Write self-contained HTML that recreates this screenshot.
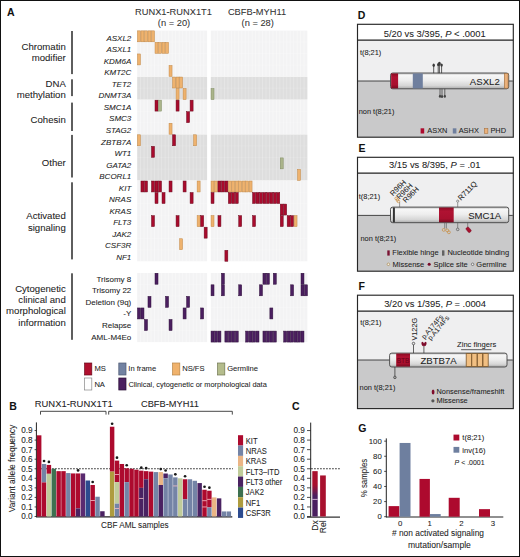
<!DOCTYPE html>
<html><head><meta charset="utf-8"><title>CBF AML figure</title>
<style>
html,body{margin:0;padding:0;background:#fff;}
body{width:520px;height:557px;overflow:hidden;font-family:"Liberation Sans", sans-serif;}
svg{display:block;}
text{font-family:"Liberation Sans", sans-serif;stroke:#222;stroke-width:0.06px;}
</style></head>
<body>
<svg width="520" height="557" viewBox="0 0 520 557">
<rect x="0" y="0" width="520" height="557" fill="#fff"/>
<text x="7.00" y="16.20" font-size="10.5" text-anchor="start" font-weight="bold" font-style="normal" fill="#111" >A</text>
<text x="173.50" y="15.10" font-size="9.3" text-anchor="middle" font-weight="normal" font-style="normal" fill="#333" >RUNX1-RUNX1T1</text>
<text x="174.00" y="25.80" font-size="9.3" text-anchor="middle" font-weight="normal" font-style="normal" fill="#333" >(n = 20)</text>
<text x="257.00" y="15.10" font-size="9.3" text-anchor="middle" font-weight="normal" font-style="normal" fill="#333" >CBFB-MYH11</text>
<text x="257.70" y="25.80" font-size="9.3" text-anchor="middle" font-weight="normal" font-style="normal" fill="#333" >(n = 28)</text>
<rect x="137.20" y="30.60" width="69.90" height="45.90" fill="#f3f3f4" />
<line x1="140.56" y1="30.60" x2="140.56" y2="76.50" stroke="#ffffff" stroke-width="0.5" stroke-opacity="0.75"/>
<line x1="144.07" y1="30.60" x2="144.07" y2="76.50" stroke="#ffffff" stroke-width="0.5" stroke-opacity="0.75"/>
<line x1="147.58" y1="30.60" x2="147.58" y2="76.50" stroke="#ffffff" stroke-width="0.5" stroke-opacity="0.75"/>
<line x1="151.09" y1="30.60" x2="151.09" y2="76.50" stroke="#ffffff" stroke-width="0.5" stroke-opacity="0.75"/>
<line x1="154.60" y1="30.60" x2="154.60" y2="76.50" stroke="#ffffff" stroke-width="0.5" stroke-opacity="0.75"/>
<line x1="158.11" y1="30.60" x2="158.11" y2="76.50" stroke="#ffffff" stroke-width="0.5" stroke-opacity="0.75"/>
<line x1="161.62" y1="30.60" x2="161.62" y2="76.50" stroke="#ffffff" stroke-width="0.5" stroke-opacity="0.75"/>
<line x1="165.13" y1="30.60" x2="165.13" y2="76.50" stroke="#ffffff" stroke-width="0.5" stroke-opacity="0.75"/>
<line x1="168.64" y1="30.60" x2="168.64" y2="76.50" stroke="#ffffff" stroke-width="0.5" stroke-opacity="0.75"/>
<line x1="172.15" y1="30.60" x2="172.15" y2="76.50" stroke="#ffffff" stroke-width="0.5" stroke-opacity="0.75"/>
<line x1="175.66" y1="30.60" x2="175.66" y2="76.50" stroke="#ffffff" stroke-width="0.5" stroke-opacity="0.75"/>
<line x1="179.17" y1="30.60" x2="179.17" y2="76.50" stroke="#ffffff" stroke-width="0.5" stroke-opacity="0.75"/>
<line x1="182.68" y1="30.60" x2="182.68" y2="76.50" stroke="#ffffff" stroke-width="0.5" stroke-opacity="0.75"/>
<line x1="186.19" y1="30.60" x2="186.19" y2="76.50" stroke="#ffffff" stroke-width="0.5" stroke-opacity="0.75"/>
<line x1="189.70" y1="30.60" x2="189.70" y2="76.50" stroke="#ffffff" stroke-width="0.5" stroke-opacity="0.75"/>
<line x1="193.21" y1="30.60" x2="193.21" y2="76.50" stroke="#ffffff" stroke-width="0.5" stroke-opacity="0.75"/>
<line x1="196.72" y1="30.60" x2="196.72" y2="76.50" stroke="#ffffff" stroke-width="0.5" stroke-opacity="0.75"/>
<line x1="200.23" y1="30.60" x2="200.23" y2="76.50" stroke="#ffffff" stroke-width="0.5" stroke-opacity="0.75"/>
<line x1="203.74" y1="30.60" x2="203.74" y2="76.50" stroke="#ffffff" stroke-width="0.5" stroke-opacity="0.75"/>
<line x1="137.20" y1="42.00" x2="207.10" y2="42.00" stroke="#ffffff" stroke-width="0.45" stroke-opacity="0.44999999999999996"/>
<line x1="137.20" y1="53.55" x2="207.10" y2="53.55" stroke="#ffffff" stroke-width="0.45" stroke-opacity="0.44999999999999996"/>
<line x1="137.20" y1="65.10" x2="207.10" y2="65.10" stroke="#ffffff" stroke-width="0.45" stroke-opacity="0.44999999999999996"/>
<rect x="210.80" y="30.60" width="96.58" height="45.90" fill="#f3f3f4" />
<line x1="214.11" y1="30.60" x2="214.11" y2="76.50" stroke="#ffffff" stroke-width="0.5" stroke-opacity="0.75"/>
<line x1="217.57" y1="30.60" x2="217.57" y2="76.50" stroke="#ffffff" stroke-width="0.5" stroke-opacity="0.75"/>
<line x1="221.03" y1="30.60" x2="221.03" y2="76.50" stroke="#ffffff" stroke-width="0.5" stroke-opacity="0.75"/>
<line x1="224.49" y1="30.60" x2="224.49" y2="76.50" stroke="#ffffff" stroke-width="0.5" stroke-opacity="0.75"/>
<line x1="227.95" y1="30.60" x2="227.95" y2="76.50" stroke="#ffffff" stroke-width="0.5" stroke-opacity="0.75"/>
<line x1="231.41" y1="30.60" x2="231.41" y2="76.50" stroke="#ffffff" stroke-width="0.5" stroke-opacity="0.75"/>
<line x1="234.87" y1="30.60" x2="234.87" y2="76.50" stroke="#ffffff" stroke-width="0.5" stroke-opacity="0.75"/>
<line x1="238.33" y1="30.60" x2="238.33" y2="76.50" stroke="#ffffff" stroke-width="0.5" stroke-opacity="0.75"/>
<line x1="241.79" y1="30.60" x2="241.79" y2="76.50" stroke="#ffffff" stroke-width="0.5" stroke-opacity="0.75"/>
<line x1="245.25" y1="30.60" x2="245.25" y2="76.50" stroke="#ffffff" stroke-width="0.5" stroke-opacity="0.75"/>
<line x1="248.71" y1="30.60" x2="248.71" y2="76.50" stroke="#ffffff" stroke-width="0.5" stroke-opacity="0.75"/>
<line x1="252.17" y1="30.60" x2="252.17" y2="76.50" stroke="#ffffff" stroke-width="0.5" stroke-opacity="0.75"/>
<line x1="255.63" y1="30.60" x2="255.63" y2="76.50" stroke="#ffffff" stroke-width="0.5" stroke-opacity="0.75"/>
<line x1="259.09" y1="30.60" x2="259.09" y2="76.50" stroke="#ffffff" stroke-width="0.5" stroke-opacity="0.75"/>
<line x1="262.55" y1="30.60" x2="262.55" y2="76.50" stroke="#ffffff" stroke-width="0.5" stroke-opacity="0.75"/>
<line x1="266.01" y1="30.60" x2="266.01" y2="76.50" stroke="#ffffff" stroke-width="0.5" stroke-opacity="0.75"/>
<line x1="269.47" y1="30.60" x2="269.47" y2="76.50" stroke="#ffffff" stroke-width="0.5" stroke-opacity="0.75"/>
<line x1="272.93" y1="30.60" x2="272.93" y2="76.50" stroke="#ffffff" stroke-width="0.5" stroke-opacity="0.75"/>
<line x1="276.39" y1="30.60" x2="276.39" y2="76.50" stroke="#ffffff" stroke-width="0.5" stroke-opacity="0.75"/>
<line x1="279.85" y1="30.60" x2="279.85" y2="76.50" stroke="#ffffff" stroke-width="0.5" stroke-opacity="0.75"/>
<line x1="283.31" y1="30.60" x2="283.31" y2="76.50" stroke="#ffffff" stroke-width="0.5" stroke-opacity="0.75"/>
<line x1="286.77" y1="30.60" x2="286.77" y2="76.50" stroke="#ffffff" stroke-width="0.5" stroke-opacity="0.75"/>
<line x1="290.23" y1="30.60" x2="290.23" y2="76.50" stroke="#ffffff" stroke-width="0.5" stroke-opacity="0.75"/>
<line x1="293.69" y1="30.60" x2="293.69" y2="76.50" stroke="#ffffff" stroke-width="0.5" stroke-opacity="0.75"/>
<line x1="297.15" y1="30.60" x2="297.15" y2="76.50" stroke="#ffffff" stroke-width="0.5" stroke-opacity="0.75"/>
<line x1="300.61" y1="30.60" x2="300.61" y2="76.50" stroke="#ffffff" stroke-width="0.5" stroke-opacity="0.75"/>
<line x1="304.07" y1="30.60" x2="304.07" y2="76.50" stroke="#ffffff" stroke-width="0.5" stroke-opacity="0.75"/>
<line x1="210.80" y1="42.00" x2="307.38" y2="42.00" stroke="#ffffff" stroke-width="0.45" stroke-opacity="0.44999999999999996"/>
<line x1="210.80" y1="53.55" x2="307.38" y2="53.55" stroke="#ffffff" stroke-width="0.45" stroke-opacity="0.44999999999999996"/>
<line x1="210.80" y1="65.10" x2="307.38" y2="65.10" stroke="#ffffff" stroke-width="0.45" stroke-opacity="0.44999999999999996"/>
<rect x="137.20" y="76.80" width="69.90" height="22.80" fill="#dedede" />
<line x1="140.56" y1="76.80" x2="140.56" y2="99.60" stroke="#ffffff" stroke-width="0.5" stroke-opacity="0.45"/>
<line x1="144.07" y1="76.80" x2="144.07" y2="99.60" stroke="#ffffff" stroke-width="0.5" stroke-opacity="0.45"/>
<line x1="147.58" y1="76.80" x2="147.58" y2="99.60" stroke="#ffffff" stroke-width="0.5" stroke-opacity="0.45"/>
<line x1="151.09" y1="76.80" x2="151.09" y2="99.60" stroke="#ffffff" stroke-width="0.5" stroke-opacity="0.45"/>
<line x1="154.60" y1="76.80" x2="154.60" y2="99.60" stroke="#ffffff" stroke-width="0.5" stroke-opacity="0.45"/>
<line x1="158.11" y1="76.80" x2="158.11" y2="99.60" stroke="#ffffff" stroke-width="0.5" stroke-opacity="0.45"/>
<line x1="161.62" y1="76.80" x2="161.62" y2="99.60" stroke="#ffffff" stroke-width="0.5" stroke-opacity="0.45"/>
<line x1="165.13" y1="76.80" x2="165.13" y2="99.60" stroke="#ffffff" stroke-width="0.5" stroke-opacity="0.45"/>
<line x1="168.64" y1="76.80" x2="168.64" y2="99.60" stroke="#ffffff" stroke-width="0.5" stroke-opacity="0.45"/>
<line x1="172.15" y1="76.80" x2="172.15" y2="99.60" stroke="#ffffff" stroke-width="0.5" stroke-opacity="0.45"/>
<line x1="175.66" y1="76.80" x2="175.66" y2="99.60" stroke="#ffffff" stroke-width="0.5" stroke-opacity="0.45"/>
<line x1="179.17" y1="76.80" x2="179.17" y2="99.60" stroke="#ffffff" stroke-width="0.5" stroke-opacity="0.45"/>
<line x1="182.68" y1="76.80" x2="182.68" y2="99.60" stroke="#ffffff" stroke-width="0.5" stroke-opacity="0.45"/>
<line x1="186.19" y1="76.80" x2="186.19" y2="99.60" stroke="#ffffff" stroke-width="0.5" stroke-opacity="0.45"/>
<line x1="189.70" y1="76.80" x2="189.70" y2="99.60" stroke="#ffffff" stroke-width="0.5" stroke-opacity="0.45"/>
<line x1="193.21" y1="76.80" x2="193.21" y2="99.60" stroke="#ffffff" stroke-width="0.5" stroke-opacity="0.45"/>
<line x1="196.72" y1="76.80" x2="196.72" y2="99.60" stroke="#ffffff" stroke-width="0.5" stroke-opacity="0.45"/>
<line x1="200.23" y1="76.80" x2="200.23" y2="99.60" stroke="#ffffff" stroke-width="0.5" stroke-opacity="0.45"/>
<line x1="203.74" y1="76.80" x2="203.74" y2="99.60" stroke="#ffffff" stroke-width="0.5" stroke-opacity="0.45"/>
<line x1="137.20" y1="88.20" x2="207.10" y2="88.20" stroke="#ffffff" stroke-width="0.45" stroke-opacity="0.27"/>
<rect x="210.80" y="76.80" width="96.58" height="22.80" fill="#dedede" />
<line x1="214.11" y1="76.80" x2="214.11" y2="99.60" stroke="#ffffff" stroke-width="0.5" stroke-opacity="0.45"/>
<line x1="217.57" y1="76.80" x2="217.57" y2="99.60" stroke="#ffffff" stroke-width="0.5" stroke-opacity="0.45"/>
<line x1="221.03" y1="76.80" x2="221.03" y2="99.60" stroke="#ffffff" stroke-width="0.5" stroke-opacity="0.45"/>
<line x1="224.49" y1="76.80" x2="224.49" y2="99.60" stroke="#ffffff" stroke-width="0.5" stroke-opacity="0.45"/>
<line x1="227.95" y1="76.80" x2="227.95" y2="99.60" stroke="#ffffff" stroke-width="0.5" stroke-opacity="0.45"/>
<line x1="231.41" y1="76.80" x2="231.41" y2="99.60" stroke="#ffffff" stroke-width="0.5" stroke-opacity="0.45"/>
<line x1="234.87" y1="76.80" x2="234.87" y2="99.60" stroke="#ffffff" stroke-width="0.5" stroke-opacity="0.45"/>
<line x1="238.33" y1="76.80" x2="238.33" y2="99.60" stroke="#ffffff" stroke-width="0.5" stroke-opacity="0.45"/>
<line x1="241.79" y1="76.80" x2="241.79" y2="99.60" stroke="#ffffff" stroke-width="0.5" stroke-opacity="0.45"/>
<line x1="245.25" y1="76.80" x2="245.25" y2="99.60" stroke="#ffffff" stroke-width="0.5" stroke-opacity="0.45"/>
<line x1="248.71" y1="76.80" x2="248.71" y2="99.60" stroke="#ffffff" stroke-width="0.5" stroke-opacity="0.45"/>
<line x1="252.17" y1="76.80" x2="252.17" y2="99.60" stroke="#ffffff" stroke-width="0.5" stroke-opacity="0.45"/>
<line x1="255.63" y1="76.80" x2="255.63" y2="99.60" stroke="#ffffff" stroke-width="0.5" stroke-opacity="0.45"/>
<line x1="259.09" y1="76.80" x2="259.09" y2="99.60" stroke="#ffffff" stroke-width="0.5" stroke-opacity="0.45"/>
<line x1="262.55" y1="76.80" x2="262.55" y2="99.60" stroke="#ffffff" stroke-width="0.5" stroke-opacity="0.45"/>
<line x1="266.01" y1="76.80" x2="266.01" y2="99.60" stroke="#ffffff" stroke-width="0.5" stroke-opacity="0.45"/>
<line x1="269.47" y1="76.80" x2="269.47" y2="99.60" stroke="#ffffff" stroke-width="0.5" stroke-opacity="0.45"/>
<line x1="272.93" y1="76.80" x2="272.93" y2="99.60" stroke="#ffffff" stroke-width="0.5" stroke-opacity="0.45"/>
<line x1="276.39" y1="76.80" x2="276.39" y2="99.60" stroke="#ffffff" stroke-width="0.5" stroke-opacity="0.45"/>
<line x1="279.85" y1="76.80" x2="279.85" y2="99.60" stroke="#ffffff" stroke-width="0.5" stroke-opacity="0.45"/>
<line x1="283.31" y1="76.80" x2="283.31" y2="99.60" stroke="#ffffff" stroke-width="0.5" stroke-opacity="0.45"/>
<line x1="286.77" y1="76.80" x2="286.77" y2="99.60" stroke="#ffffff" stroke-width="0.5" stroke-opacity="0.45"/>
<line x1="290.23" y1="76.80" x2="290.23" y2="99.60" stroke="#ffffff" stroke-width="0.5" stroke-opacity="0.45"/>
<line x1="293.69" y1="76.80" x2="293.69" y2="99.60" stroke="#ffffff" stroke-width="0.5" stroke-opacity="0.45"/>
<line x1="297.15" y1="76.80" x2="297.15" y2="99.60" stroke="#ffffff" stroke-width="0.5" stroke-opacity="0.45"/>
<line x1="300.61" y1="76.80" x2="300.61" y2="99.60" stroke="#ffffff" stroke-width="0.5" stroke-opacity="0.45"/>
<line x1="304.07" y1="76.80" x2="304.07" y2="99.60" stroke="#ffffff" stroke-width="0.5" stroke-opacity="0.45"/>
<line x1="210.80" y1="88.20" x2="307.38" y2="88.20" stroke="#ffffff" stroke-width="0.45" stroke-opacity="0.27"/>
<rect x="137.20" y="99.90" width="69.90" height="34.35" fill="#f3f3f4" />
<line x1="140.56" y1="99.90" x2="140.56" y2="134.25" stroke="#ffffff" stroke-width="0.5" stroke-opacity="0.75"/>
<line x1="144.07" y1="99.90" x2="144.07" y2="134.25" stroke="#ffffff" stroke-width="0.5" stroke-opacity="0.75"/>
<line x1="147.58" y1="99.90" x2="147.58" y2="134.25" stroke="#ffffff" stroke-width="0.5" stroke-opacity="0.75"/>
<line x1="151.09" y1="99.90" x2="151.09" y2="134.25" stroke="#ffffff" stroke-width="0.5" stroke-opacity="0.75"/>
<line x1="154.60" y1="99.90" x2="154.60" y2="134.25" stroke="#ffffff" stroke-width="0.5" stroke-opacity="0.75"/>
<line x1="158.11" y1="99.90" x2="158.11" y2="134.25" stroke="#ffffff" stroke-width="0.5" stroke-opacity="0.75"/>
<line x1="161.62" y1="99.90" x2="161.62" y2="134.25" stroke="#ffffff" stroke-width="0.5" stroke-opacity="0.75"/>
<line x1="165.13" y1="99.90" x2="165.13" y2="134.25" stroke="#ffffff" stroke-width="0.5" stroke-opacity="0.75"/>
<line x1="168.64" y1="99.90" x2="168.64" y2="134.25" stroke="#ffffff" stroke-width="0.5" stroke-opacity="0.75"/>
<line x1="172.15" y1="99.90" x2="172.15" y2="134.25" stroke="#ffffff" stroke-width="0.5" stroke-opacity="0.75"/>
<line x1="175.66" y1="99.90" x2="175.66" y2="134.25" stroke="#ffffff" stroke-width="0.5" stroke-opacity="0.75"/>
<line x1="179.17" y1="99.90" x2="179.17" y2="134.25" stroke="#ffffff" stroke-width="0.5" stroke-opacity="0.75"/>
<line x1="182.68" y1="99.90" x2="182.68" y2="134.25" stroke="#ffffff" stroke-width="0.5" stroke-opacity="0.75"/>
<line x1="186.19" y1="99.90" x2="186.19" y2="134.25" stroke="#ffffff" stroke-width="0.5" stroke-opacity="0.75"/>
<line x1="189.70" y1="99.90" x2="189.70" y2="134.25" stroke="#ffffff" stroke-width="0.5" stroke-opacity="0.75"/>
<line x1="193.21" y1="99.90" x2="193.21" y2="134.25" stroke="#ffffff" stroke-width="0.5" stroke-opacity="0.75"/>
<line x1="196.72" y1="99.90" x2="196.72" y2="134.25" stroke="#ffffff" stroke-width="0.5" stroke-opacity="0.75"/>
<line x1="200.23" y1="99.90" x2="200.23" y2="134.25" stroke="#ffffff" stroke-width="0.5" stroke-opacity="0.75"/>
<line x1="203.74" y1="99.90" x2="203.74" y2="134.25" stroke="#ffffff" stroke-width="0.5" stroke-opacity="0.75"/>
<line x1="137.20" y1="111.30" x2="207.10" y2="111.30" stroke="#ffffff" stroke-width="0.45" stroke-opacity="0.44999999999999996"/>
<line x1="137.20" y1="122.85" x2="207.10" y2="122.85" stroke="#ffffff" stroke-width="0.45" stroke-opacity="0.44999999999999996"/>
<rect x="210.80" y="99.90" width="96.58" height="34.35" fill="#f3f3f4" />
<line x1="214.11" y1="99.90" x2="214.11" y2="134.25" stroke="#ffffff" stroke-width="0.5" stroke-opacity="0.75"/>
<line x1="217.57" y1="99.90" x2="217.57" y2="134.25" stroke="#ffffff" stroke-width="0.5" stroke-opacity="0.75"/>
<line x1="221.03" y1="99.90" x2="221.03" y2="134.25" stroke="#ffffff" stroke-width="0.5" stroke-opacity="0.75"/>
<line x1="224.49" y1="99.90" x2="224.49" y2="134.25" stroke="#ffffff" stroke-width="0.5" stroke-opacity="0.75"/>
<line x1="227.95" y1="99.90" x2="227.95" y2="134.25" stroke="#ffffff" stroke-width="0.5" stroke-opacity="0.75"/>
<line x1="231.41" y1="99.90" x2="231.41" y2="134.25" stroke="#ffffff" stroke-width="0.5" stroke-opacity="0.75"/>
<line x1="234.87" y1="99.90" x2="234.87" y2="134.25" stroke="#ffffff" stroke-width="0.5" stroke-opacity="0.75"/>
<line x1="238.33" y1="99.90" x2="238.33" y2="134.25" stroke="#ffffff" stroke-width="0.5" stroke-opacity="0.75"/>
<line x1="241.79" y1="99.90" x2="241.79" y2="134.25" stroke="#ffffff" stroke-width="0.5" stroke-opacity="0.75"/>
<line x1="245.25" y1="99.90" x2="245.25" y2="134.25" stroke="#ffffff" stroke-width="0.5" stroke-opacity="0.75"/>
<line x1="248.71" y1="99.90" x2="248.71" y2="134.25" stroke="#ffffff" stroke-width="0.5" stroke-opacity="0.75"/>
<line x1="252.17" y1="99.90" x2="252.17" y2="134.25" stroke="#ffffff" stroke-width="0.5" stroke-opacity="0.75"/>
<line x1="255.63" y1="99.90" x2="255.63" y2="134.25" stroke="#ffffff" stroke-width="0.5" stroke-opacity="0.75"/>
<line x1="259.09" y1="99.90" x2="259.09" y2="134.25" stroke="#ffffff" stroke-width="0.5" stroke-opacity="0.75"/>
<line x1="262.55" y1="99.90" x2="262.55" y2="134.25" stroke="#ffffff" stroke-width="0.5" stroke-opacity="0.75"/>
<line x1="266.01" y1="99.90" x2="266.01" y2="134.25" stroke="#ffffff" stroke-width="0.5" stroke-opacity="0.75"/>
<line x1="269.47" y1="99.90" x2="269.47" y2="134.25" stroke="#ffffff" stroke-width="0.5" stroke-opacity="0.75"/>
<line x1="272.93" y1="99.90" x2="272.93" y2="134.25" stroke="#ffffff" stroke-width="0.5" stroke-opacity="0.75"/>
<line x1="276.39" y1="99.90" x2="276.39" y2="134.25" stroke="#ffffff" stroke-width="0.5" stroke-opacity="0.75"/>
<line x1="279.85" y1="99.90" x2="279.85" y2="134.25" stroke="#ffffff" stroke-width="0.5" stroke-opacity="0.75"/>
<line x1="283.31" y1="99.90" x2="283.31" y2="134.25" stroke="#ffffff" stroke-width="0.5" stroke-opacity="0.75"/>
<line x1="286.77" y1="99.90" x2="286.77" y2="134.25" stroke="#ffffff" stroke-width="0.5" stroke-opacity="0.75"/>
<line x1="290.23" y1="99.90" x2="290.23" y2="134.25" stroke="#ffffff" stroke-width="0.5" stroke-opacity="0.75"/>
<line x1="293.69" y1="99.90" x2="293.69" y2="134.25" stroke="#ffffff" stroke-width="0.5" stroke-opacity="0.75"/>
<line x1="297.15" y1="99.90" x2="297.15" y2="134.25" stroke="#ffffff" stroke-width="0.5" stroke-opacity="0.75"/>
<line x1="300.61" y1="99.90" x2="300.61" y2="134.25" stroke="#ffffff" stroke-width="0.5" stroke-opacity="0.75"/>
<line x1="304.07" y1="99.90" x2="304.07" y2="134.25" stroke="#ffffff" stroke-width="0.5" stroke-opacity="0.75"/>
<line x1="210.80" y1="111.30" x2="307.38" y2="111.30" stroke="#ffffff" stroke-width="0.45" stroke-opacity="0.44999999999999996"/>
<line x1="210.80" y1="122.85" x2="307.38" y2="122.85" stroke="#ffffff" stroke-width="0.45" stroke-opacity="0.44999999999999996"/>
<rect x="137.20" y="134.55" width="69.90" height="45.90" fill="#dedede" />
<line x1="140.56" y1="134.55" x2="140.56" y2="180.45" stroke="#ffffff" stroke-width="0.5" stroke-opacity="0.45"/>
<line x1="144.07" y1="134.55" x2="144.07" y2="180.45" stroke="#ffffff" stroke-width="0.5" stroke-opacity="0.45"/>
<line x1="147.58" y1="134.55" x2="147.58" y2="180.45" stroke="#ffffff" stroke-width="0.5" stroke-opacity="0.45"/>
<line x1="151.09" y1="134.55" x2="151.09" y2="180.45" stroke="#ffffff" stroke-width="0.5" stroke-opacity="0.45"/>
<line x1="154.60" y1="134.55" x2="154.60" y2="180.45" stroke="#ffffff" stroke-width="0.5" stroke-opacity="0.45"/>
<line x1="158.11" y1="134.55" x2="158.11" y2="180.45" stroke="#ffffff" stroke-width="0.5" stroke-opacity="0.45"/>
<line x1="161.62" y1="134.55" x2="161.62" y2="180.45" stroke="#ffffff" stroke-width="0.5" stroke-opacity="0.45"/>
<line x1="165.13" y1="134.55" x2="165.13" y2="180.45" stroke="#ffffff" stroke-width="0.5" stroke-opacity="0.45"/>
<line x1="168.64" y1="134.55" x2="168.64" y2="180.45" stroke="#ffffff" stroke-width="0.5" stroke-opacity="0.45"/>
<line x1="172.15" y1="134.55" x2="172.15" y2="180.45" stroke="#ffffff" stroke-width="0.5" stroke-opacity="0.45"/>
<line x1="175.66" y1="134.55" x2="175.66" y2="180.45" stroke="#ffffff" stroke-width="0.5" stroke-opacity="0.45"/>
<line x1="179.17" y1="134.55" x2="179.17" y2="180.45" stroke="#ffffff" stroke-width="0.5" stroke-opacity="0.45"/>
<line x1="182.68" y1="134.55" x2="182.68" y2="180.45" stroke="#ffffff" stroke-width="0.5" stroke-opacity="0.45"/>
<line x1="186.19" y1="134.55" x2="186.19" y2="180.45" stroke="#ffffff" stroke-width="0.5" stroke-opacity="0.45"/>
<line x1="189.70" y1="134.55" x2="189.70" y2="180.45" stroke="#ffffff" stroke-width="0.5" stroke-opacity="0.45"/>
<line x1="193.21" y1="134.55" x2="193.21" y2="180.45" stroke="#ffffff" stroke-width="0.5" stroke-opacity="0.45"/>
<line x1="196.72" y1="134.55" x2="196.72" y2="180.45" stroke="#ffffff" stroke-width="0.5" stroke-opacity="0.45"/>
<line x1="200.23" y1="134.55" x2="200.23" y2="180.45" stroke="#ffffff" stroke-width="0.5" stroke-opacity="0.45"/>
<line x1="203.74" y1="134.55" x2="203.74" y2="180.45" stroke="#ffffff" stroke-width="0.5" stroke-opacity="0.45"/>
<line x1="137.20" y1="145.95" x2="207.10" y2="145.95" stroke="#ffffff" stroke-width="0.45" stroke-opacity="0.27"/>
<line x1="137.20" y1="157.50" x2="207.10" y2="157.50" stroke="#ffffff" stroke-width="0.45" stroke-opacity="0.27"/>
<line x1="137.20" y1="169.05" x2="207.10" y2="169.05" stroke="#ffffff" stroke-width="0.45" stroke-opacity="0.27"/>
<rect x="210.80" y="134.55" width="96.58" height="45.90" fill="#dedede" />
<line x1="214.11" y1="134.55" x2="214.11" y2="180.45" stroke="#ffffff" stroke-width="0.5" stroke-opacity="0.45"/>
<line x1="217.57" y1="134.55" x2="217.57" y2="180.45" stroke="#ffffff" stroke-width="0.5" stroke-opacity="0.45"/>
<line x1="221.03" y1="134.55" x2="221.03" y2="180.45" stroke="#ffffff" stroke-width="0.5" stroke-opacity="0.45"/>
<line x1="224.49" y1="134.55" x2="224.49" y2="180.45" stroke="#ffffff" stroke-width="0.5" stroke-opacity="0.45"/>
<line x1="227.95" y1="134.55" x2="227.95" y2="180.45" stroke="#ffffff" stroke-width="0.5" stroke-opacity="0.45"/>
<line x1="231.41" y1="134.55" x2="231.41" y2="180.45" stroke="#ffffff" stroke-width="0.5" stroke-opacity="0.45"/>
<line x1="234.87" y1="134.55" x2="234.87" y2="180.45" stroke="#ffffff" stroke-width="0.5" stroke-opacity="0.45"/>
<line x1="238.33" y1="134.55" x2="238.33" y2="180.45" stroke="#ffffff" stroke-width="0.5" stroke-opacity="0.45"/>
<line x1="241.79" y1="134.55" x2="241.79" y2="180.45" stroke="#ffffff" stroke-width="0.5" stroke-opacity="0.45"/>
<line x1="245.25" y1="134.55" x2="245.25" y2="180.45" stroke="#ffffff" stroke-width="0.5" stroke-opacity="0.45"/>
<line x1="248.71" y1="134.55" x2="248.71" y2="180.45" stroke="#ffffff" stroke-width="0.5" stroke-opacity="0.45"/>
<line x1="252.17" y1="134.55" x2="252.17" y2="180.45" stroke="#ffffff" stroke-width="0.5" stroke-opacity="0.45"/>
<line x1="255.63" y1="134.55" x2="255.63" y2="180.45" stroke="#ffffff" stroke-width="0.5" stroke-opacity="0.45"/>
<line x1="259.09" y1="134.55" x2="259.09" y2="180.45" stroke="#ffffff" stroke-width="0.5" stroke-opacity="0.45"/>
<line x1="262.55" y1="134.55" x2="262.55" y2="180.45" stroke="#ffffff" stroke-width="0.5" stroke-opacity="0.45"/>
<line x1="266.01" y1="134.55" x2="266.01" y2="180.45" stroke="#ffffff" stroke-width="0.5" stroke-opacity="0.45"/>
<line x1="269.47" y1="134.55" x2="269.47" y2="180.45" stroke="#ffffff" stroke-width="0.5" stroke-opacity="0.45"/>
<line x1="272.93" y1="134.55" x2="272.93" y2="180.45" stroke="#ffffff" stroke-width="0.5" stroke-opacity="0.45"/>
<line x1="276.39" y1="134.55" x2="276.39" y2="180.45" stroke="#ffffff" stroke-width="0.5" stroke-opacity="0.45"/>
<line x1="279.85" y1="134.55" x2="279.85" y2="180.45" stroke="#ffffff" stroke-width="0.5" stroke-opacity="0.45"/>
<line x1="283.31" y1="134.55" x2="283.31" y2="180.45" stroke="#ffffff" stroke-width="0.5" stroke-opacity="0.45"/>
<line x1="286.77" y1="134.55" x2="286.77" y2="180.45" stroke="#ffffff" stroke-width="0.5" stroke-opacity="0.45"/>
<line x1="290.23" y1="134.55" x2="290.23" y2="180.45" stroke="#ffffff" stroke-width="0.5" stroke-opacity="0.45"/>
<line x1="293.69" y1="134.55" x2="293.69" y2="180.45" stroke="#ffffff" stroke-width="0.5" stroke-opacity="0.45"/>
<line x1="297.15" y1="134.55" x2="297.15" y2="180.45" stroke="#ffffff" stroke-width="0.5" stroke-opacity="0.45"/>
<line x1="300.61" y1="134.55" x2="300.61" y2="180.45" stroke="#ffffff" stroke-width="0.5" stroke-opacity="0.45"/>
<line x1="304.07" y1="134.55" x2="304.07" y2="180.45" stroke="#ffffff" stroke-width="0.5" stroke-opacity="0.45"/>
<line x1="210.80" y1="145.95" x2="307.38" y2="145.95" stroke="#ffffff" stroke-width="0.45" stroke-opacity="0.27"/>
<line x1="210.80" y1="157.50" x2="307.38" y2="157.50" stroke="#ffffff" stroke-width="0.45" stroke-opacity="0.27"/>
<line x1="210.80" y1="169.05" x2="307.38" y2="169.05" stroke="#ffffff" stroke-width="0.45" stroke-opacity="0.27"/>
<rect x="137.20" y="180.75" width="69.90" height="80.55" fill="#f3f3f4" />
<line x1="140.56" y1="180.75" x2="140.56" y2="261.30" stroke="#ffffff" stroke-width="0.5" stroke-opacity="0.75"/>
<line x1="144.07" y1="180.75" x2="144.07" y2="261.30" stroke="#ffffff" stroke-width="0.5" stroke-opacity="0.75"/>
<line x1="147.58" y1="180.75" x2="147.58" y2="261.30" stroke="#ffffff" stroke-width="0.5" stroke-opacity="0.75"/>
<line x1="151.09" y1="180.75" x2="151.09" y2="261.30" stroke="#ffffff" stroke-width="0.5" stroke-opacity="0.75"/>
<line x1="154.60" y1="180.75" x2="154.60" y2="261.30" stroke="#ffffff" stroke-width="0.5" stroke-opacity="0.75"/>
<line x1="158.11" y1="180.75" x2="158.11" y2="261.30" stroke="#ffffff" stroke-width="0.5" stroke-opacity="0.75"/>
<line x1="161.62" y1="180.75" x2="161.62" y2="261.30" stroke="#ffffff" stroke-width="0.5" stroke-opacity="0.75"/>
<line x1="165.13" y1="180.75" x2="165.13" y2="261.30" stroke="#ffffff" stroke-width="0.5" stroke-opacity="0.75"/>
<line x1="168.64" y1="180.75" x2="168.64" y2="261.30" stroke="#ffffff" stroke-width="0.5" stroke-opacity="0.75"/>
<line x1="172.15" y1="180.75" x2="172.15" y2="261.30" stroke="#ffffff" stroke-width="0.5" stroke-opacity="0.75"/>
<line x1="175.66" y1="180.75" x2="175.66" y2="261.30" stroke="#ffffff" stroke-width="0.5" stroke-opacity="0.75"/>
<line x1="179.17" y1="180.75" x2="179.17" y2="261.30" stroke="#ffffff" stroke-width="0.5" stroke-opacity="0.75"/>
<line x1="182.68" y1="180.75" x2="182.68" y2="261.30" stroke="#ffffff" stroke-width="0.5" stroke-opacity="0.75"/>
<line x1="186.19" y1="180.75" x2="186.19" y2="261.30" stroke="#ffffff" stroke-width="0.5" stroke-opacity="0.75"/>
<line x1="189.70" y1="180.75" x2="189.70" y2="261.30" stroke="#ffffff" stroke-width="0.5" stroke-opacity="0.75"/>
<line x1="193.21" y1="180.75" x2="193.21" y2="261.30" stroke="#ffffff" stroke-width="0.5" stroke-opacity="0.75"/>
<line x1="196.72" y1="180.75" x2="196.72" y2="261.30" stroke="#ffffff" stroke-width="0.5" stroke-opacity="0.75"/>
<line x1="200.23" y1="180.75" x2="200.23" y2="261.30" stroke="#ffffff" stroke-width="0.5" stroke-opacity="0.75"/>
<line x1="203.74" y1="180.75" x2="203.74" y2="261.30" stroke="#ffffff" stroke-width="0.5" stroke-opacity="0.75"/>
<line x1="137.20" y1="192.15" x2="207.10" y2="192.15" stroke="#ffffff" stroke-width="0.45" stroke-opacity="0.44999999999999996"/>
<line x1="137.20" y1="203.70" x2="207.10" y2="203.70" stroke="#ffffff" stroke-width="0.45" stroke-opacity="0.44999999999999996"/>
<line x1="137.20" y1="215.25" x2="207.10" y2="215.25" stroke="#ffffff" stroke-width="0.45" stroke-opacity="0.44999999999999996"/>
<line x1="137.20" y1="226.80" x2="207.10" y2="226.80" stroke="#ffffff" stroke-width="0.45" stroke-opacity="0.44999999999999996"/>
<line x1="137.20" y1="238.35" x2="207.10" y2="238.35" stroke="#ffffff" stroke-width="0.45" stroke-opacity="0.44999999999999996"/>
<line x1="137.20" y1="249.90" x2="207.10" y2="249.90" stroke="#ffffff" stroke-width="0.45" stroke-opacity="0.44999999999999996"/>
<rect x="210.80" y="180.75" width="96.58" height="80.55" fill="#f3f3f4" />
<line x1="214.11" y1="180.75" x2="214.11" y2="261.30" stroke="#ffffff" stroke-width="0.5" stroke-opacity="0.75"/>
<line x1="217.57" y1="180.75" x2="217.57" y2="261.30" stroke="#ffffff" stroke-width="0.5" stroke-opacity="0.75"/>
<line x1="221.03" y1="180.75" x2="221.03" y2="261.30" stroke="#ffffff" stroke-width="0.5" stroke-opacity="0.75"/>
<line x1="224.49" y1="180.75" x2="224.49" y2="261.30" stroke="#ffffff" stroke-width="0.5" stroke-opacity="0.75"/>
<line x1="227.95" y1="180.75" x2="227.95" y2="261.30" stroke="#ffffff" stroke-width="0.5" stroke-opacity="0.75"/>
<line x1="231.41" y1="180.75" x2="231.41" y2="261.30" stroke="#ffffff" stroke-width="0.5" stroke-opacity="0.75"/>
<line x1="234.87" y1="180.75" x2="234.87" y2="261.30" stroke="#ffffff" stroke-width="0.5" stroke-opacity="0.75"/>
<line x1="238.33" y1="180.75" x2="238.33" y2="261.30" stroke="#ffffff" stroke-width="0.5" stroke-opacity="0.75"/>
<line x1="241.79" y1="180.75" x2="241.79" y2="261.30" stroke="#ffffff" stroke-width="0.5" stroke-opacity="0.75"/>
<line x1="245.25" y1="180.75" x2="245.25" y2="261.30" stroke="#ffffff" stroke-width="0.5" stroke-opacity="0.75"/>
<line x1="248.71" y1="180.75" x2="248.71" y2="261.30" stroke="#ffffff" stroke-width="0.5" stroke-opacity="0.75"/>
<line x1="252.17" y1="180.75" x2="252.17" y2="261.30" stroke="#ffffff" stroke-width="0.5" stroke-opacity="0.75"/>
<line x1="255.63" y1="180.75" x2="255.63" y2="261.30" stroke="#ffffff" stroke-width="0.5" stroke-opacity="0.75"/>
<line x1="259.09" y1="180.75" x2="259.09" y2="261.30" stroke="#ffffff" stroke-width="0.5" stroke-opacity="0.75"/>
<line x1="262.55" y1="180.75" x2="262.55" y2="261.30" stroke="#ffffff" stroke-width="0.5" stroke-opacity="0.75"/>
<line x1="266.01" y1="180.75" x2="266.01" y2="261.30" stroke="#ffffff" stroke-width="0.5" stroke-opacity="0.75"/>
<line x1="269.47" y1="180.75" x2="269.47" y2="261.30" stroke="#ffffff" stroke-width="0.5" stroke-opacity="0.75"/>
<line x1="272.93" y1="180.75" x2="272.93" y2="261.30" stroke="#ffffff" stroke-width="0.5" stroke-opacity="0.75"/>
<line x1="276.39" y1="180.75" x2="276.39" y2="261.30" stroke="#ffffff" stroke-width="0.5" stroke-opacity="0.75"/>
<line x1="279.85" y1="180.75" x2="279.85" y2="261.30" stroke="#ffffff" stroke-width="0.5" stroke-opacity="0.75"/>
<line x1="283.31" y1="180.75" x2="283.31" y2="261.30" stroke="#ffffff" stroke-width="0.5" stroke-opacity="0.75"/>
<line x1="286.77" y1="180.75" x2="286.77" y2="261.30" stroke="#ffffff" stroke-width="0.5" stroke-opacity="0.75"/>
<line x1="290.23" y1="180.75" x2="290.23" y2="261.30" stroke="#ffffff" stroke-width="0.5" stroke-opacity="0.75"/>
<line x1="293.69" y1="180.75" x2="293.69" y2="261.30" stroke="#ffffff" stroke-width="0.5" stroke-opacity="0.75"/>
<line x1="297.15" y1="180.75" x2="297.15" y2="261.30" stroke="#ffffff" stroke-width="0.5" stroke-opacity="0.75"/>
<line x1="300.61" y1="180.75" x2="300.61" y2="261.30" stroke="#ffffff" stroke-width="0.5" stroke-opacity="0.75"/>
<line x1="304.07" y1="180.75" x2="304.07" y2="261.30" stroke="#ffffff" stroke-width="0.5" stroke-opacity="0.75"/>
<line x1="210.80" y1="192.15" x2="307.38" y2="192.15" stroke="#ffffff" stroke-width="0.45" stroke-opacity="0.44999999999999996"/>
<line x1="210.80" y1="203.70" x2="307.38" y2="203.70" stroke="#ffffff" stroke-width="0.45" stroke-opacity="0.44999999999999996"/>
<line x1="210.80" y1="215.25" x2="307.38" y2="215.25" stroke="#ffffff" stroke-width="0.45" stroke-opacity="0.44999999999999996"/>
<line x1="210.80" y1="226.80" x2="307.38" y2="226.80" stroke="#ffffff" stroke-width="0.45" stroke-opacity="0.44999999999999996"/>
<line x1="210.80" y1="238.35" x2="307.38" y2="238.35" stroke="#ffffff" stroke-width="0.45" stroke-opacity="0.44999999999999996"/>
<line x1="210.80" y1="249.90" x2="307.38" y2="249.90" stroke="#ffffff" stroke-width="0.45" stroke-opacity="0.44999999999999996"/>
<rect x="137.20" y="273.00" width="69.90" height="69.12" fill="#f3f3f4" />
<line x1="140.56" y1="273.00" x2="140.56" y2="342.12" stroke="#ffffff" stroke-width="0.5" stroke-opacity="0.75"/>
<line x1="144.07" y1="273.00" x2="144.07" y2="342.12" stroke="#ffffff" stroke-width="0.5" stroke-opacity="0.75"/>
<line x1="147.58" y1="273.00" x2="147.58" y2="342.12" stroke="#ffffff" stroke-width="0.5" stroke-opacity="0.75"/>
<line x1="151.09" y1="273.00" x2="151.09" y2="342.12" stroke="#ffffff" stroke-width="0.5" stroke-opacity="0.75"/>
<line x1="154.60" y1="273.00" x2="154.60" y2="342.12" stroke="#ffffff" stroke-width="0.5" stroke-opacity="0.75"/>
<line x1="158.11" y1="273.00" x2="158.11" y2="342.12" stroke="#ffffff" stroke-width="0.5" stroke-opacity="0.75"/>
<line x1="161.62" y1="273.00" x2="161.62" y2="342.12" stroke="#ffffff" stroke-width="0.5" stroke-opacity="0.75"/>
<line x1="165.13" y1="273.00" x2="165.13" y2="342.12" stroke="#ffffff" stroke-width="0.5" stroke-opacity="0.75"/>
<line x1="168.64" y1="273.00" x2="168.64" y2="342.12" stroke="#ffffff" stroke-width="0.5" stroke-opacity="0.75"/>
<line x1="172.15" y1="273.00" x2="172.15" y2="342.12" stroke="#ffffff" stroke-width="0.5" stroke-opacity="0.75"/>
<line x1="175.66" y1="273.00" x2="175.66" y2="342.12" stroke="#ffffff" stroke-width="0.5" stroke-opacity="0.75"/>
<line x1="179.17" y1="273.00" x2="179.17" y2="342.12" stroke="#ffffff" stroke-width="0.5" stroke-opacity="0.75"/>
<line x1="182.68" y1="273.00" x2="182.68" y2="342.12" stroke="#ffffff" stroke-width="0.5" stroke-opacity="0.75"/>
<line x1="186.19" y1="273.00" x2="186.19" y2="342.12" stroke="#ffffff" stroke-width="0.5" stroke-opacity="0.75"/>
<line x1="189.70" y1="273.00" x2="189.70" y2="342.12" stroke="#ffffff" stroke-width="0.5" stroke-opacity="0.75"/>
<line x1="193.21" y1="273.00" x2="193.21" y2="342.12" stroke="#ffffff" stroke-width="0.5" stroke-opacity="0.75"/>
<line x1="196.72" y1="273.00" x2="196.72" y2="342.12" stroke="#ffffff" stroke-width="0.5" stroke-opacity="0.75"/>
<line x1="200.23" y1="273.00" x2="200.23" y2="342.12" stroke="#ffffff" stroke-width="0.5" stroke-opacity="0.75"/>
<line x1="203.74" y1="273.00" x2="203.74" y2="342.12" stroke="#ffffff" stroke-width="0.5" stroke-opacity="0.75"/>
<line x1="137.20" y1="284.42" x2="207.10" y2="284.42" stroke="#ffffff" stroke-width="0.45" stroke-opacity="0.44999999999999996"/>
<line x1="137.20" y1="295.99" x2="207.10" y2="295.99" stroke="#ffffff" stroke-width="0.45" stroke-opacity="0.44999999999999996"/>
<line x1="137.20" y1="307.56" x2="207.10" y2="307.56" stroke="#ffffff" stroke-width="0.45" stroke-opacity="0.44999999999999996"/>
<line x1="137.20" y1="319.13" x2="207.10" y2="319.13" stroke="#ffffff" stroke-width="0.45" stroke-opacity="0.44999999999999996"/>
<line x1="137.20" y1="330.70" x2="207.10" y2="330.70" stroke="#ffffff" stroke-width="0.45" stroke-opacity="0.44999999999999996"/>
<rect x="210.80" y="273.00" width="96.58" height="69.12" fill="#f3f3f4" />
<line x1="214.11" y1="273.00" x2="214.11" y2="342.12" stroke="#ffffff" stroke-width="0.5" stroke-opacity="0.75"/>
<line x1="217.57" y1="273.00" x2="217.57" y2="342.12" stroke="#ffffff" stroke-width="0.5" stroke-opacity="0.75"/>
<line x1="221.03" y1="273.00" x2="221.03" y2="342.12" stroke="#ffffff" stroke-width="0.5" stroke-opacity="0.75"/>
<line x1="224.49" y1="273.00" x2="224.49" y2="342.12" stroke="#ffffff" stroke-width="0.5" stroke-opacity="0.75"/>
<line x1="227.95" y1="273.00" x2="227.95" y2="342.12" stroke="#ffffff" stroke-width="0.5" stroke-opacity="0.75"/>
<line x1="231.41" y1="273.00" x2="231.41" y2="342.12" stroke="#ffffff" stroke-width="0.5" stroke-opacity="0.75"/>
<line x1="234.87" y1="273.00" x2="234.87" y2="342.12" stroke="#ffffff" stroke-width="0.5" stroke-opacity="0.75"/>
<line x1="238.33" y1="273.00" x2="238.33" y2="342.12" stroke="#ffffff" stroke-width="0.5" stroke-opacity="0.75"/>
<line x1="241.79" y1="273.00" x2="241.79" y2="342.12" stroke="#ffffff" stroke-width="0.5" stroke-opacity="0.75"/>
<line x1="245.25" y1="273.00" x2="245.25" y2="342.12" stroke="#ffffff" stroke-width="0.5" stroke-opacity="0.75"/>
<line x1="248.71" y1="273.00" x2="248.71" y2="342.12" stroke="#ffffff" stroke-width="0.5" stroke-opacity="0.75"/>
<line x1="252.17" y1="273.00" x2="252.17" y2="342.12" stroke="#ffffff" stroke-width="0.5" stroke-opacity="0.75"/>
<line x1="255.63" y1="273.00" x2="255.63" y2="342.12" stroke="#ffffff" stroke-width="0.5" stroke-opacity="0.75"/>
<line x1="259.09" y1="273.00" x2="259.09" y2="342.12" stroke="#ffffff" stroke-width="0.5" stroke-opacity="0.75"/>
<line x1="262.55" y1="273.00" x2="262.55" y2="342.12" stroke="#ffffff" stroke-width="0.5" stroke-opacity="0.75"/>
<line x1="266.01" y1="273.00" x2="266.01" y2="342.12" stroke="#ffffff" stroke-width="0.5" stroke-opacity="0.75"/>
<line x1="269.47" y1="273.00" x2="269.47" y2="342.12" stroke="#ffffff" stroke-width="0.5" stroke-opacity="0.75"/>
<line x1="272.93" y1="273.00" x2="272.93" y2="342.12" stroke="#ffffff" stroke-width="0.5" stroke-opacity="0.75"/>
<line x1="276.39" y1="273.00" x2="276.39" y2="342.12" stroke="#ffffff" stroke-width="0.5" stroke-opacity="0.75"/>
<line x1="279.85" y1="273.00" x2="279.85" y2="342.12" stroke="#ffffff" stroke-width="0.5" stroke-opacity="0.75"/>
<line x1="283.31" y1="273.00" x2="283.31" y2="342.12" stroke="#ffffff" stroke-width="0.5" stroke-opacity="0.75"/>
<line x1="286.77" y1="273.00" x2="286.77" y2="342.12" stroke="#ffffff" stroke-width="0.5" stroke-opacity="0.75"/>
<line x1="290.23" y1="273.00" x2="290.23" y2="342.12" stroke="#ffffff" stroke-width="0.5" stroke-opacity="0.75"/>
<line x1="293.69" y1="273.00" x2="293.69" y2="342.12" stroke="#ffffff" stroke-width="0.5" stroke-opacity="0.75"/>
<line x1="297.15" y1="273.00" x2="297.15" y2="342.12" stroke="#ffffff" stroke-width="0.5" stroke-opacity="0.75"/>
<line x1="300.61" y1="273.00" x2="300.61" y2="342.12" stroke="#ffffff" stroke-width="0.5" stroke-opacity="0.75"/>
<line x1="304.07" y1="273.00" x2="304.07" y2="342.12" stroke="#ffffff" stroke-width="0.5" stroke-opacity="0.75"/>
<line x1="210.80" y1="284.42" x2="307.38" y2="284.42" stroke="#ffffff" stroke-width="0.45" stroke-opacity="0.44999999999999996"/>
<line x1="210.80" y1="295.99" x2="307.38" y2="295.99" stroke="#ffffff" stroke-width="0.45" stroke-opacity="0.44999999999999996"/>
<line x1="210.80" y1="307.56" x2="307.38" y2="307.56" stroke="#ffffff" stroke-width="0.45" stroke-opacity="0.44999999999999996"/>
<line x1="210.80" y1="319.13" x2="307.38" y2="319.13" stroke="#ffffff" stroke-width="0.45" stroke-opacity="0.44999999999999996"/>
<line x1="210.80" y1="330.70" x2="307.38" y2="330.70" stroke="#ffffff" stroke-width="0.45" stroke-opacity="0.44999999999999996"/>
<rect x="137.45" y="30.85" width="3.01" height="10.95" fill="#eeb26e" stroke="#c08848" stroke-width="0.5" />
<rect x="140.96" y="30.85" width="3.01" height="10.95" fill="#eeb26e" stroke="#c08848" stroke-width="0.5" />
<rect x="144.47" y="30.85" width="3.01" height="10.95" fill="#eeb26e" stroke="#c08848" stroke-width="0.5" />
<rect x="147.98" y="30.85" width="3.01" height="10.95" fill="#eeb26e" stroke="#c08848" stroke-width="0.5" />
<rect x="151.49" y="30.85" width="3.01" height="10.95" fill="#eeb26e" stroke="#c08848" stroke-width="0.5" />
<rect x="155.00" y="42.40" width="3.01" height="10.95" fill="#eeb26e" stroke="#c08848" stroke-width="0.5" />
<rect x="158.51" y="42.40" width="3.01" height="10.95" fill="#eeb26e" stroke="#c08848" stroke-width="0.5" />
<rect x="162.02" y="42.40" width="3.01" height="10.95" fill="#eeb26e" stroke="#c08848" stroke-width="0.5" />
<rect x="165.53" y="42.40" width="3.01" height="10.95" fill="#eeb26e" stroke="#c08848" stroke-width="0.5" />
<rect x="137.45" y="53.95" width="3.01" height="10.95" fill="#eeb26e" stroke="#c08848" stroke-width="0.5" />
<rect x="169.04" y="65.50" width="3.01" height="10.95" fill="#eeb26e" stroke="#c08848" stroke-width="0.5" />
<rect x="172.55" y="77.05" width="3.01" height="10.95" fill="#eeb26e" stroke="#c08848" stroke-width="0.5" />
<rect x="176.06" y="77.05" width="3.01" height="10.95" fill="#eeb26e" stroke="#c08848" stroke-width="0.5" />
<rect x="179.57" y="77.05" width="3.01" height="10.95" fill="#eeb26e" stroke="#c08848" stroke-width="0.5" />
<rect x="176.06" y="88.60" width="3.01" height="10.95" fill="#eeb26e" stroke="#c08848" stroke-width="0.5" />
<rect x="183.08" y="88.60" width="3.01" height="10.95" fill="#eeb26e" stroke="#c08848" stroke-width="0.5" />
<rect x="211.05" y="88.60" width="2.96" height="10.95" fill="#aab48a" stroke="#7f8a62" stroke-width="0.5" />
<rect x="155.00" y="100.15" width="3.01" height="10.95" fill="#a80b2d" stroke="#6a0a1e" stroke-width="0.5" />
<rect x="158.51" y="100.15" width="3.01" height="10.95" fill="#aab48a" stroke="#7f8a62" stroke-width="0.5" />
<rect x="176.06" y="100.15" width="3.01" height="10.95" fill="#a80b2d" stroke="#6a0a1e" stroke-width="0.5" />
<rect x="190.10" y="100.15" width="3.01" height="10.95" fill="#a80b2d" stroke="#6a0a1e" stroke-width="0.5" />
<rect x="186.59" y="111.70" width="3.01" height="10.95" fill="#a80b2d" stroke="#6a0a1e" stroke-width="0.5" />
<rect x="169.04" y="123.25" width="3.01" height="10.95" fill="#eeb26e" stroke="#c08848" stroke-width="0.5" />
<rect x="137.45" y="134.80" width="3.01" height="10.95" fill="#eeb26e" stroke="#c08848" stroke-width="0.5" />
<rect x="172.55" y="134.80" width="3.01" height="10.95" fill="#a80b2d" stroke="#6a0a1e" stroke-width="0.5" />
<rect x="193.61" y="134.80" width="3.01" height="10.95" fill="#eeb26e" stroke="#c08848" stroke-width="0.5" />
<rect x="151.49" y="146.35" width="3.01" height="10.95" fill="#a80b2d" stroke="#6a0a1e" stroke-width="0.5" />
<rect x="280.25" y="157.90" width="2.96" height="10.95" fill="#aab48a" stroke="#7f8a62" stroke-width="0.5" />
<rect x="297.55" y="169.45" width="2.96" height="10.95" fill="#eeb26e" stroke="#c08848" stroke-width="0.5" />
<rect x="140.96" y="181.00" width="3.01" height="10.95" fill="#a80b2d" stroke="#6a0a1e" stroke-width="0.5" />
<rect x="144.47" y="181.00" width="3.01" height="10.95" fill="#a80b2d" stroke="#6a0a1e" stroke-width="0.5" />
<rect x="151.49" y="181.00" width="3.01" height="10.95" fill="#a80b2d" stroke="#6a0a1e" stroke-width="0.5" />
<rect x="155.00" y="181.00" width="3.01" height="10.95" fill="#a80b2d" stroke="#6a0a1e" stroke-width="0.5" />
<rect x="158.51" y="181.00" width="3.01" height="10.95" fill="#a80b2d" stroke="#6a0a1e" stroke-width="0.5" />
<rect x="169.04" y="181.00" width="3.01" height="10.95" fill="#a80b2d" stroke="#6a0a1e" stroke-width="0.5" />
<rect x="183.08" y="181.00" width="3.01" height="10.95" fill="#a80b2d" stroke="#6a0a1e" stroke-width="0.5" />
<rect x="197.12" y="181.00" width="3.01" height="10.95" fill="#eeb26e" stroke="#c08848" stroke-width="0.5" />
<rect x="211.05" y="181.00" width="2.96" height="10.95" fill="#eeb26e" stroke="#c08848" stroke-width="0.5" />
<rect x="214.51" y="181.00" width="2.96" height="10.95" fill="#eeb26e" stroke="#c08848" stroke-width="0.5" />
<rect x="217.97" y="181.00" width="2.96" height="10.95" fill="#a80b2d" stroke="#6a0a1e" stroke-width="0.5" />
<rect x="221.43" y="181.00" width="2.96" height="10.95" fill="#a80b2d" stroke="#6a0a1e" stroke-width="0.5" />
<rect x="224.89" y="181.00" width="2.96" height="10.95" fill="#a80b2d" stroke="#6a0a1e" stroke-width="0.5" />
<rect x="228.35" y="181.00" width="2.96" height="10.95" fill="#eeb26e" stroke="#c08848" stroke-width="0.5" />
<rect x="231.81" y="181.00" width="2.96" height="10.95" fill="#eeb26e" stroke="#c08848" stroke-width="0.5" />
<rect x="235.27" y="181.00" width="2.96" height="10.95" fill="#eeb26e" stroke="#c08848" stroke-width="0.5" />
<rect x="238.73" y="181.00" width="2.96" height="10.95" fill="#eeb26e" stroke="#c08848" stroke-width="0.5" />
<rect x="242.19" y="181.00" width="2.96" height="10.95" fill="#eeb26e" stroke="#c08848" stroke-width="0.5" />
<rect x="245.65" y="181.00" width="2.96" height="10.95" fill="#eeb26e" stroke="#c08848" stroke-width="0.5" />
<rect x="249.11" y="181.00" width="2.96" height="10.95" fill="#eeb26e" stroke="#c08848" stroke-width="0.5" />
<rect x="155.00" y="192.55" width="3.01" height="10.95" fill="#a80b2d" stroke="#6a0a1e" stroke-width="0.5" />
<rect x="162.02" y="192.55" width="3.01" height="10.95" fill="#a80b2d" stroke="#6a0a1e" stroke-width="0.5" />
<rect x="190.10" y="192.55" width="3.01" height="10.95" fill="#a80b2d" stroke="#6a0a1e" stroke-width="0.5" />
<rect x="211.05" y="192.55" width="2.96" height="10.95" fill="#a80b2d" stroke="#6a0a1e" stroke-width="0.5" />
<rect x="228.35" y="192.55" width="2.96" height="10.95" fill="#a80b2d" stroke="#6a0a1e" stroke-width="0.5" />
<rect x="231.81" y="192.55" width="2.96" height="10.95" fill="#a80b2d" stroke="#6a0a1e" stroke-width="0.5" />
<rect x="235.27" y="192.55" width="2.96" height="10.95" fill="#a80b2d" stroke="#6a0a1e" stroke-width="0.5" />
<rect x="252.57" y="192.55" width="2.96" height="10.95" fill="#a80b2d" stroke="#6a0a1e" stroke-width="0.5" />
<rect x="256.03" y="192.55" width="2.96" height="10.95" fill="#a80b2d" stroke="#6a0a1e" stroke-width="0.5" />
<rect x="259.49" y="192.55" width="2.96" height="10.95" fill="#a80b2d" stroke="#6a0a1e" stroke-width="0.5" />
<rect x="262.95" y="192.55" width="2.96" height="10.95" fill="#a80b2d" stroke="#6a0a1e" stroke-width="0.5" />
<rect x="266.41" y="192.55" width="2.96" height="10.95" fill="#a80b2d" stroke="#6a0a1e" stroke-width="0.5" />
<rect x="269.87" y="192.55" width="2.96" height="10.95" fill="#a80b2d" stroke="#6a0a1e" stroke-width="0.5" />
<rect x="273.33" y="192.55" width="2.96" height="10.95" fill="#a80b2d" stroke="#6a0a1e" stroke-width="0.5" />
<rect x="276.79" y="192.55" width="2.96" height="10.95" fill="#a80b2d" stroke="#6a0a1e" stroke-width="0.5" />
<rect x="280.25" y="204.10" width="2.96" height="10.95" fill="#a80b2d" stroke="#6a0a1e" stroke-width="0.5" />
<rect x="283.71" y="204.10" width="2.96" height="10.95" fill="#a80b2d" stroke="#6a0a1e" stroke-width="0.5" />
<rect x="151.49" y="215.65" width="3.01" height="10.95" fill="#a80b2d" stroke="#6a0a1e" stroke-width="0.5" />
<rect x="176.06" y="215.65" width="3.01" height="10.95" fill="#a80b2d" stroke="#6a0a1e" stroke-width="0.5" />
<rect x="197.12" y="215.65" width="3.01" height="10.95" fill="#eeb26e" stroke="#c08848" stroke-width="0.5" />
<rect x="200.63" y="215.65" width="3.01" height="10.95" fill="#a80b2d" stroke="#6a0a1e" stroke-width="0.5" />
<rect x="211.05" y="215.65" width="2.96" height="10.95" fill="#eeb26e" stroke="#c08848" stroke-width="0.5" />
<rect x="217.97" y="215.65" width="2.96" height="10.95" fill="#a80b2d" stroke="#6a0a1e" stroke-width="0.5" />
<rect x="238.73" y="215.65" width="2.96" height="10.95" fill="#a80b2d" stroke="#6a0a1e" stroke-width="0.5" />
<rect x="252.57" y="215.65" width="2.96" height="10.95" fill="#a80b2d" stroke="#6a0a1e" stroke-width="0.5" />
<rect x="280.25" y="215.65" width="2.96" height="10.95" fill="#a80b2d" stroke="#6a0a1e" stroke-width="0.5" />
<rect x="287.17" y="215.65" width="2.96" height="10.95" fill="#a80b2d" stroke="#6a0a1e" stroke-width="0.5" />
<rect x="290.63" y="215.65" width="2.96" height="10.95" fill="#a80b2d" stroke="#6a0a1e" stroke-width="0.5" />
<rect x="294.09" y="215.65" width="2.96" height="10.95" fill="#eeb26e" stroke="#c08848" stroke-width="0.5" />
<rect x="204.14" y="227.20" width="3.01" height="10.95" fill="#a80b2d" stroke="#6a0a1e" stroke-width="0.5" />
<rect x="179.57" y="238.75" width="3.01" height="10.95" fill="#eeb26e" stroke="#c08848" stroke-width="0.5" />
<rect x="224.89" y="250.30" width="2.96" height="10.95" fill="#a80b2d" stroke="#6a0a1e" stroke-width="0.5" />
<rect x="155.00" y="273.25" width="3.01" height="10.97" fill="#4b1f60" stroke="#2e0f3a" stroke-width="0.5" />
<rect x="221.43" y="273.25" width="2.96" height="10.97" fill="#4b1f60" stroke="#2e0f3a" stroke-width="0.5" />
<rect x="262.95" y="273.25" width="2.96" height="10.97" fill="#4b1f60" stroke="#2e0f3a" stroke-width="0.5" />
<rect x="266.41" y="273.25" width="2.96" height="10.97" fill="#4b1f60" stroke="#2e0f3a" stroke-width="0.5" />
<rect x="273.33" y="273.25" width="2.96" height="10.97" fill="#4b1f60" stroke="#2e0f3a" stroke-width="0.5" />
<rect x="301.01" y="273.25" width="2.96" height="10.97" fill="#4b1f60" stroke="#2e0f3a" stroke-width="0.5" />
<rect x="211.05" y="284.82" width="2.96" height="10.97" fill="#4b1f60" stroke="#2e0f3a" stroke-width="0.5" />
<rect x="221.43" y="284.82" width="2.96" height="10.97" fill="#4b1f60" stroke="#2e0f3a" stroke-width="0.5" />
<rect x="238.73" y="284.82" width="2.96" height="10.97" fill="#4b1f60" stroke="#2e0f3a" stroke-width="0.5" />
<rect x="259.49" y="284.82" width="2.96" height="10.97" fill="#4b1f60" stroke="#2e0f3a" stroke-width="0.5" />
<rect x="290.63" y="284.82" width="2.96" height="10.97" fill="#4b1f60" stroke="#2e0f3a" stroke-width="0.5" />
<rect x="301.01" y="284.82" width="2.96" height="10.97" fill="#4b1f60" stroke="#2e0f3a" stroke-width="0.5" />
<rect x="304.47" y="284.82" width="2.96" height="10.97" fill="#4b1f60" stroke="#2e0f3a" stroke-width="0.5" />
<rect x="147.98" y="296.39" width="3.01" height="10.97" fill="#4b1f60" stroke="#2e0f3a" stroke-width="0.5" />
<rect x="165.53" y="296.39" width="3.01" height="10.97" fill="#4b1f60" stroke="#2e0f3a" stroke-width="0.5" />
<rect x="186.59" y="296.39" width="3.01" height="10.97" fill="#4b1f60" stroke="#2e0f3a" stroke-width="0.5" />
<rect x="137.45" y="307.96" width="3.01" height="10.97" fill="#4b1f60" stroke="#2e0f3a" stroke-width="0.5" />
<rect x="140.96" y="307.96" width="3.01" height="10.97" fill="#4b1f60" stroke="#2e0f3a" stroke-width="0.5" />
<rect x="183.08" y="307.96" width="3.01" height="10.97" fill="#4b1f60" stroke="#2e0f3a" stroke-width="0.5" />
<rect x="200.63" y="307.96" width="3.01" height="10.97" fill="#4b1f60" stroke="#2e0f3a" stroke-width="0.5" />
<rect x="269.87" y="307.96" width="2.96" height="10.97" fill="#4b1f60" stroke="#2e0f3a" stroke-width="0.5" />
<rect x="144.47" y="319.53" width="3.01" height="10.97" fill="#4b1f60" stroke="#2e0f3a" stroke-width="0.5" />
<rect x="169.04" y="319.53" width="3.01" height="10.97" fill="#4b1f60" stroke="#2e0f3a" stroke-width="0.5" />
<rect x="211.05" y="331.10" width="2.96" height="10.97" fill="#4b1f60" stroke="#2e0f3a" stroke-width="0.5" />
<rect x="214.51" y="331.10" width="2.96" height="10.97" fill="#4b1f60" stroke="#2e0f3a" stroke-width="0.5" />
<rect x="217.97" y="331.10" width="2.96" height="10.97" fill="#4b1f60" stroke="#2e0f3a" stroke-width="0.5" />
<rect x="224.89" y="331.10" width="2.96" height="10.97" fill="#4b1f60" stroke="#2e0f3a" stroke-width="0.5" />
<rect x="228.35" y="331.10" width="2.96" height="10.97" fill="#4b1f60" stroke="#2e0f3a" stroke-width="0.5" />
<rect x="231.81" y="331.10" width="2.96" height="10.97" fill="#4b1f60" stroke="#2e0f3a" stroke-width="0.5" />
<rect x="235.27" y="331.10" width="2.96" height="10.97" fill="#4b1f60" stroke="#2e0f3a" stroke-width="0.5" />
<rect x="245.65" y="331.10" width="2.96" height="10.97" fill="#4b1f60" stroke="#2e0f3a" stroke-width="0.5" />
<rect x="249.11" y="331.10" width="2.96" height="10.97" fill="#4b1f60" stroke="#2e0f3a" stroke-width="0.5" />
<rect x="252.57" y="331.10" width="2.96" height="10.97" fill="#4b1f60" stroke="#2e0f3a" stroke-width="0.5" />
<rect x="256.03" y="331.10" width="2.96" height="10.97" fill="#4b1f60" stroke="#2e0f3a" stroke-width="0.5" />
<rect x="262.95" y="331.10" width="2.96" height="10.97" fill="#4b1f60" stroke="#2e0f3a" stroke-width="0.5" />
<rect x="266.41" y="331.10" width="2.96" height="10.97" fill="#4b1f60" stroke="#2e0f3a" stroke-width="0.5" />
<rect x="269.87" y="331.10" width="2.96" height="10.97" fill="#4b1f60" stroke="#2e0f3a" stroke-width="0.5" />
<rect x="273.33" y="331.10" width="2.96" height="10.97" fill="#4b1f60" stroke="#2e0f3a" stroke-width="0.5" />
<rect x="283.71" y="331.10" width="2.96" height="10.97" fill="#4b1f60" stroke="#2e0f3a" stroke-width="0.5" />
<rect x="287.17" y="331.10" width="2.96" height="10.97" fill="#4b1f60" stroke="#2e0f3a" stroke-width="0.5" />
<rect x="290.63" y="331.10" width="2.96" height="10.97" fill="#4b1f60" stroke="#2e0f3a" stroke-width="0.5" />
<rect x="294.09" y="331.10" width="2.96" height="10.97" fill="#4b1f60" stroke="#2e0f3a" stroke-width="0.5" />
<rect x="297.55" y="331.10" width="2.96" height="10.97" fill="#4b1f60" stroke="#2e0f3a" stroke-width="0.5" />
<rect x="301.01" y="331.10" width="2.96" height="10.97" fill="#4b1f60" stroke="#2e0f3a" stroke-width="0.5" />
<text x="131.30" y="40.58" font-size="8" text-anchor="end" font-weight="normal" font-style="italic" fill="#222" >ASXL2</text>
<text x="131.30" y="52.13" font-size="8" text-anchor="end" font-weight="normal" font-style="italic" fill="#222" >ASXL1</text>
<text x="131.30" y="63.68" font-size="8" text-anchor="end" font-weight="normal" font-style="italic" fill="#222" >KDM6A</text>
<text x="131.30" y="75.23" font-size="8" text-anchor="end" font-weight="normal" font-style="italic" fill="#222" >KMT2C</text>
<text x="131.30" y="86.78" font-size="8" text-anchor="end" font-weight="normal" font-style="italic" fill="#222" >TET2</text>
<text x="131.30" y="98.33" font-size="8" text-anchor="end" font-weight="normal" font-style="italic" fill="#222" >DNMT3A</text>
<text x="131.30" y="109.88" font-size="8" text-anchor="end" font-weight="normal" font-style="italic" fill="#222" >SMC1A</text>
<text x="131.30" y="121.43" font-size="8" text-anchor="end" font-weight="normal" font-style="italic" fill="#222" >SMC3</text>
<text x="131.30" y="132.97" font-size="8" text-anchor="end" font-weight="normal" font-style="italic" fill="#222" >STAG2</text>
<text x="131.30" y="144.53" font-size="8" text-anchor="end" font-weight="normal" font-style="italic" fill="#222" >ZBTB7A</text>
<text x="131.30" y="156.07" font-size="8" text-anchor="end" font-weight="normal" font-style="italic" fill="#222" >WT1</text>
<text x="131.30" y="167.62" font-size="8" text-anchor="end" font-weight="normal" font-style="italic" fill="#222" >GATA2</text>
<text x="131.30" y="179.18" font-size="8" text-anchor="end" font-weight="normal" font-style="italic" fill="#222" >BCORL1</text>
<text x="131.30" y="190.72" font-size="8" text-anchor="end" font-weight="normal" font-style="italic" fill="#222" >KIT</text>
<text x="131.30" y="202.28" font-size="8" text-anchor="end" font-weight="normal" font-style="italic" fill="#222" >NRAS</text>
<text x="131.30" y="213.82" font-size="8" text-anchor="end" font-weight="normal" font-style="italic" fill="#222" >KRAS</text>
<text x="131.30" y="225.38" font-size="8" text-anchor="end" font-weight="normal" font-style="italic" fill="#222" >FLT3</text>
<text x="131.30" y="236.93" font-size="8" text-anchor="end" font-weight="normal" font-style="italic" fill="#222" >JAK2</text>
<text x="131.30" y="248.47" font-size="8" text-anchor="end" font-weight="normal" font-style="italic" fill="#222" >CSF3R</text>
<text x="131.30" y="260.03" font-size="8" text-anchor="end" font-weight="normal" font-style="italic" fill="#222" >NF1</text>
<text x="131.30" y="281.69" font-size="8" text-anchor="end" font-weight="normal" font-style="normal" fill="#222" >Trisomy 8</text>
<text x="131.30" y="293.25" font-size="8" text-anchor="end" font-weight="normal" font-style="normal" fill="#222" >Trisomy 22</text>
<text x="131.30" y="304.82" font-size="8" text-anchor="end" font-weight="normal" font-style="normal" fill="#222" >Deletion (9q)</text>
<text x="131.30" y="316.39" font-size="8" text-anchor="end" font-weight="normal" font-style="normal" fill="#222" >-Y</text>
<text x="131.30" y="327.96" font-size="8" text-anchor="end" font-weight="normal" font-style="normal" fill="#222" >Relapse</text>
<text x="131.30" y="339.54" font-size="8" text-anchor="end" font-weight="normal" font-style="normal" fill="#222" >AML-M4Eo</text>
<rect x="71.30" y="31.00" width="1.40" height="43.10" fill="#1a1a1a" />
<rect x="71.30" y="79.30" width="1.40" height="16.80" fill="#1a1a1a" />
<rect x="71.30" y="102.60" width="1.40" height="28.40" fill="#1a1a1a" />
<rect x="71.30" y="134.90" width="1.40" height="42.60" fill="#1a1a1a" />
<rect x="71.30" y="182.30" width="1.40" height="77.10" fill="#1a1a1a" />
<rect x="71.30" y="273.30" width="1.40" height="66.50" fill="#1a1a1a" />
<text x="65.80" y="50.00" font-size="9.6" text-anchor="end" font-weight="normal" font-style="normal" fill="#222" >Chromatin</text>
<text x="65.80" y="61.25" font-size="9.6" text-anchor="end" font-weight="normal" font-style="normal" fill="#222" >modifier</text>
<text x="65.80" y="86.90" font-size="9.6" text-anchor="end" font-weight="normal" font-style="normal" fill="#222" >DNA</text>
<text x="65.80" y="97.50" font-size="9.6" text-anchor="end" font-weight="normal" font-style="normal" fill="#222" >methylation</text>
<text x="65.80" y="122.75" font-size="9.6" text-anchor="end" font-weight="normal" font-style="normal" fill="#222" >Cohesin</text>
<text x="65.80" y="166.25" font-size="9.6" text-anchor="end" font-weight="normal" font-style="normal" fill="#222" >Other</text>
<text x="65.80" y="219.40" font-size="9.6" text-anchor="end" font-weight="normal" font-style="normal" fill="#222" >Activated</text>
<text x="65.80" y="230.60" font-size="9.6" text-anchor="end" font-weight="normal" font-style="normal" fill="#222" >signaling</text>
<text x="65.80" y="291.90" font-size="9.6" text-anchor="end" font-weight="normal" font-style="normal" fill="#222" >Cytogenetic</text>
<text x="65.80" y="303.20" font-size="9.6" text-anchor="end" font-weight="normal" font-style="normal" fill="#222" >clinical and</text>
<text x="65.80" y="314.40" font-size="9.6" text-anchor="end" font-weight="normal" font-style="normal" fill="#222" >morphological</text>
<text x="65.80" y="326.00" font-size="9.6" text-anchor="end" font-weight="normal" font-style="normal" fill="#222" >information</text>
<rect x="84.60" y="363.00" width="7.20" height="12.00" fill="#b0102e" stroke="#6a0a1c" stroke-width="0.7" />
<text x="94.40" y="371.00" font-size="7.6" text-anchor="start" font-weight="normal" font-style="normal" fill="#222" >MS</text>
<rect x="118.80" y="363.00" width="7.20" height="12.00" fill="#7282a2" stroke="#4e5a72" stroke-width="0.7" />
<text x="128.30" y="371.00" font-size="7.6" text-anchor="start" font-weight="normal" font-style="normal" fill="#222" >In frame</text>
<rect x="172.60" y="363.00" width="7.20" height="12.00" fill="#f0b26c" stroke="#b78445" stroke-width="0.7" />
<text x="182.20" y="371.00" font-size="7.6" text-anchor="start" font-weight="normal" font-style="normal" fill="#222" >NS/FS</text>
<rect x="217.60" y="363.00" width="7.20" height="12.00" fill="#b4bc8c" stroke="#6f7550" stroke-width="0.7" />
<text x="227.20" y="371.00" font-size="7.6" text-anchor="start" font-weight="normal" font-style="normal" fill="#222" >Germline</text>
<rect x="84.60" y="378.00" width="7.20" height="12.00" fill="#ffffff" stroke="#888" stroke-width="0.7" />
<text x="94.40" y="387.00" font-size="7.6" text-anchor="start" font-weight="normal" font-style="normal" fill="#222" >NA</text>
<rect x="118.80" y="378.00" width="7.20" height="12.00" fill="#4b1f60" stroke="#2a0f36" stroke-width="0.7" />
<text x="128.40" y="387.00" font-size="7.6" text-anchor="start" font-weight="normal" font-style="normal" fill="#222" textLength="138.4" lengthAdjust="spacingAndGlyphs" >Clinical, cytogenetic or morphological data</text>
<text x="9.20" y="410.00" font-size="10.5" text-anchor="start" font-weight="bold" font-style="normal" fill="#111" >B</text>
<text x="73.75" y="407.00" font-size="9.5" text-anchor="middle" font-weight="normal" font-style="normal" fill="#222" textLength="78" lengthAdjust="spacingAndGlyphs" >RUNX1-RUNX1T1</text>
<text x="170.00" y="407.00" font-size="9.5" text-anchor="middle" font-weight="normal" font-style="normal" fill="#222" textLength="58" lengthAdjust="spacingAndGlyphs" >CBFB-MYH11</text>
<path d="M40.5,414.6 V411.3 H106 V414.6" fill="none" stroke="#333" stroke-width="0.9"/>
<path d="M108.7,414.6 V411.3 H232.3 V414.6" fill="none" stroke="#333" stroke-width="0.9"/>
<line x1="36.40" y1="422.40" x2="36.40" y2="517.00" stroke="#222" stroke-width="1" />
<line x1="34.60" y1="516.50" x2="36.40" y2="516.50" stroke="#222" stroke-width="0.8" />
<text x="32.60" y="519.40" font-size="8.2" text-anchor="end" font-weight="normal" font-style="normal" fill="#222" >0.0</text>
<line x1="34.60" y1="506.95" x2="36.40" y2="506.95" stroke="#222" stroke-width="0.8" />
<text x="32.60" y="509.85" font-size="8.2" text-anchor="end" font-weight="normal" font-style="normal" fill="#222" >0.1</text>
<line x1="34.60" y1="497.40" x2="36.40" y2="497.40" stroke="#222" stroke-width="0.8" />
<text x="32.60" y="500.30" font-size="8.2" text-anchor="end" font-weight="normal" font-style="normal" fill="#222" >0.2</text>
<line x1="34.60" y1="487.85" x2="36.40" y2="487.85" stroke="#222" stroke-width="0.8" />
<text x="32.60" y="490.75" font-size="8.2" text-anchor="end" font-weight="normal" font-style="normal" fill="#222" >0.3</text>
<line x1="34.60" y1="478.30" x2="36.40" y2="478.30" stroke="#222" stroke-width="0.8" />
<text x="32.60" y="481.20" font-size="8.2" text-anchor="end" font-weight="normal" font-style="normal" fill="#222" >0.4</text>
<line x1="34.60" y1="468.75" x2="36.40" y2="468.75" stroke="#222" stroke-width="0.8" />
<text x="32.60" y="471.65" font-size="8.2" text-anchor="end" font-weight="normal" font-style="normal" fill="#222" >0.5</text>
<line x1="34.60" y1="459.20" x2="36.40" y2="459.20" stroke="#222" stroke-width="0.8" />
<text x="32.60" y="462.10" font-size="8.2" text-anchor="end" font-weight="normal" font-style="normal" fill="#222" >0.6</text>
<line x1="34.60" y1="449.65" x2="36.40" y2="449.65" stroke="#222" stroke-width="0.8" />
<text x="32.60" y="452.55" font-size="8.2" text-anchor="end" font-weight="normal" font-style="normal" fill="#222" >0.7</text>
<line x1="34.60" y1="440.10" x2="36.40" y2="440.10" stroke="#222" stroke-width="0.8" />
<text x="32.60" y="443.00" font-size="8.2" text-anchor="end" font-weight="normal" font-style="normal" fill="#222" >0.8</text>
<line x1="34.60" y1="430.55" x2="36.40" y2="430.55" stroke="#222" stroke-width="0.8" />
<text x="32.60" y="433.45" font-size="8.2" text-anchor="end" font-weight="normal" font-style="normal" fill="#222" >0.9</text>
<line x1="36.00" y1="516.80" x2="232.30" y2="516.80" stroke="#222" stroke-width="1.2" />
<line x1="37.20" y1="468.75" x2="233.00" y2="468.75" stroke="#1a1a1a" stroke-width="1.1" stroke-dasharray="1.5,1.5"/>
<rect x="36.95" y="435.32" width="4.45" height="81.18" fill="#ad0a2e" />
<rect x="41.81" y="463.98" width="4.45" height="18.43" fill="#7484a6" />
<rect x="41.81" y="482.41" width="4.45" height="34.09" fill="#ad0a2e" />
<rect x="46.68" y="464.93" width="4.45" height="8.88" fill="#ad0a2e" />
<rect x="46.68" y="473.81" width="4.45" height="42.69" fill="#c0cc9a" />
<rect x="51.54" y="468.75" width="4.45" height="47.75" fill="#3d7050" />
<rect x="56.40" y="471.14" width="4.45" height="45.36" fill="#ad0a2e" />
<rect x="61.27" y="471.14" width="4.45" height="45.36" fill="#ad0a2e" />
<rect x="66.13" y="473.05" width="4.45" height="43.45" fill="#7484a6" />
<rect x="70.99" y="473.43" width="4.45" height="43.07" fill="#ad0a2e" />
<rect x="75.85" y="473.43" width="4.45" height="34.95" fill="#ad0a2e" />
<rect x="75.85" y="508.38" width="4.45" height="8.12" fill="#4a2262" />
<rect x="80.72" y="473.43" width="4.45" height="43.07" fill="#5a2a70" />
<rect x="85.58" y="480.50" width="4.45" height="36.00" fill="#2d4b8f" />
<rect x="90.44" y="484.99" width="4.45" height="31.51" fill="#ad0a2e" />
<rect x="90.44" y="500.06" width="4.45" height="0.80" fill="#f4c0c8" />
<rect x="95.31" y="496.73" width="4.45" height="19.77" fill="#7484a6" />
<rect x="100.17" y="511.25" width="4.45" height="5.25" fill="#4a2262" />
<rect x="109.90" y="426.73" width="4.45" height="44.88" fill="#ad0a2e" />
<rect x="109.90" y="471.62" width="4.45" height="44.88" fill="#ae9c3e" />
<rect x="114.76" y="460.63" width="4.45" height="21.49" fill="#ad0a2e" />
<rect x="114.76" y="482.12" width="4.45" height="21.49" fill="#c0cc9a" />
<rect x="114.76" y="503.61" width="4.45" height="12.89" fill="#7484a6" />
<rect x="114.76" y="474.08" width="4.45" height="0.80" fill="#f4c0c8" />
<rect x="114.76" y="507.98" width="4.45" height="0.80" fill="#f4c0c8" />
<rect x="119.62" y="463.98" width="4.45" height="52.52" fill="#ad0a2e" />
<rect x="124.48" y="468.27" width="4.45" height="13.85" fill="#ad0a2e" />
<rect x="124.48" y="482.12" width="4.45" height="34.38" fill="#7484a6" />
<rect x="129.35" y="468.75" width="4.45" height="47.75" fill="#ad0a2e" />
<rect x="134.21" y="469.70" width="4.45" height="46.80" fill="#ad0a2e" />
<rect x="139.07" y="470.66" width="4.45" height="17.19" fill="#ad0a2e" />
<rect x="139.07" y="487.85" width="4.45" height="28.65" fill="#4a2262" />
<rect x="139.07" y="497.96" width="4.45" height="0.80" fill="#f4c0c8" />
<rect x="143.94" y="471.14" width="4.45" height="8.12" fill="#ad0a2e" />
<rect x="143.94" y="479.25" width="4.45" height="37.25" fill="#4a2262" />
<rect x="148.80" y="471.62" width="4.45" height="44.88" fill="#ad0a2e" />
<rect x="153.66" y="472.09" width="4.45" height="44.41" fill="#7484a6" />
<rect x="158.53" y="472.09" width="4.45" height="12.89" fill="#ebb585" />
<rect x="158.53" y="484.99" width="4.45" height="31.51" fill="#4a2262" />
<rect x="163.39" y="473.52" width="4.45" height="4.78" fill="#4a2262" />
<rect x="163.39" y="478.30" width="4.45" height="38.20" fill="#7484a6" />
<rect x="168.25" y="474.48" width="4.45" height="42.02" fill="#7484a6" />
<rect x="173.11" y="477.35" width="4.45" height="39.15" fill="#7484a6" />
<rect x="173.11" y="485.54" width="4.45" height="0.80" fill="#f4c0c8" />
<rect x="177.98" y="478.30" width="4.45" height="38.20" fill="#c0cc9a" />
<rect x="182.84" y="479.25" width="4.45" height="20.06" fill="#ad0a2e" />
<rect x="182.84" y="499.31" width="4.45" height="17.19" fill="#7484a6" />
<rect x="187.70" y="479.25" width="4.45" height="37.25" fill="#7484a6" />
<rect x="192.57" y="480.78" width="4.45" height="35.72" fill="#7484a6" />
<rect x="197.43" y="483.07" width="4.45" height="33.43" fill="#4a2262" />
<rect x="202.29" y="489.76" width="4.45" height="26.74" fill="#ad0a2e" />
<rect x="202.29" y="500.34" width="4.45" height="0.80" fill="#f4c0c8" />
<rect x="202.29" y="506.55" width="4.45" height="0.80" fill="#f4c0c8" />
<rect x="207.16" y="490.71" width="4.45" height="16.71" fill="#ad0a2e" />
<rect x="207.16" y="507.43" width="4.45" height="9.07" fill="#7484a6" />
<rect x="207.16" y="498.91" width="4.45" height="0.80" fill="#f4c0c8" />
<rect x="212.02" y="497.40" width="4.45" height="19.10" fill="#ebb585" />
<rect x="216.88" y="498.36" width="4.45" height="18.14" fill="#4a2262" />
<rect x="221.74" y="511.44" width="4.45" height="5.06" fill="#7484a6" />
<rect x="226.61" y="511.44" width="4.45" height="5.06" fill="#7484a6" />
<circle cx="44.04" cy="460.98" r="1.35" fill="#1a1a1a"/>
<circle cx="48.90" cy="461.93" r="1.35" fill="#1a1a1a"/>
<circle cx="78.08" cy="470.43" r="1.35" fill="#1a1a1a"/>
<circle cx="92.67" cy="481.99" r="1.35" fill="#1a1a1a"/>
<circle cx="112.12" cy="423.73" r="1.35" fill="#1a1a1a"/>
<circle cx="116.98" cy="457.63" r="1.35" fill="#1a1a1a"/>
<circle cx="126.71" cy="465.27" r="1.35" fill="#1a1a1a"/>
<circle cx="141.30" cy="467.66" r="1.35" fill="#1a1a1a"/>
<circle cx="146.16" cy="468.14" r="1.35" fill="#1a1a1a"/>
<circle cx="160.75" cy="469.09" r="1.35" fill="#1a1a1a"/>
<circle cx="165.61" cy="470.52" r="1.35" fill="#1a1a1a"/>
<circle cx="175.34" cy="474.35" r="1.35" fill="#1a1a1a"/>
<circle cx="185.07" cy="476.25" r="1.35" fill="#1a1a1a"/>
<circle cx="204.52" cy="486.76" r="1.35" fill="#1a1a1a"/>
<circle cx="209.38" cy="487.71" r="1.35" fill="#1a1a1a"/>
<rect x="238.00" y="435.20" width="5.10" height="10.34" fill="#ad0a2e" />
<text x="0" y="0" font-size="8.2" text-anchor="start" fill="#222" transform="translate(245.80,443.50) scale(0.927,1)">KIT</text>
<rect x="238.00" y="445.54" width="5.10" height="10.34" fill="#7484a6" />
<text x="0" y="0" font-size="8.2" text-anchor="start" fill="#222" transform="translate(245.80,453.84) scale(0.927,1)">NRAS</text>
<rect x="238.00" y="455.88" width="5.10" height="10.34" fill="#ebb585" />
<text x="0" y="0" font-size="8.2" text-anchor="start" fill="#222" transform="translate(245.80,464.18) scale(0.927,1)">KRAS</text>
<rect x="238.00" y="466.22" width="5.10" height="10.34" fill="#c0cc9a" />
<text x="0" y="0" font-size="8.2" text-anchor="start" fill="#222" transform="translate(245.80,474.52) scale(0.927,1)">FLT3–ITD</text>
<rect x="238.00" y="476.56" width="5.10" height="10.34" fill="#4a2262" />
<text x="0" y="0" font-size="8.2" text-anchor="start" fill="#222" transform="translate(245.80,484.86) scale(0.927,1)">FLT3 other</text>
<rect x="238.00" y="486.90" width="5.10" height="10.34" fill="#3d7050" />
<text x="0" y="0" font-size="8.2" text-anchor="start" fill="#222" transform="translate(245.80,495.20) scale(0.927,1)">JAK2</text>
<rect x="238.00" y="497.24" width="5.10" height="10.34" fill="#ae9c3e" />
<text x="0" y="0" font-size="8.2" text-anchor="start" fill="#222" transform="translate(245.80,505.54) scale(0.927,1)">NF1</text>
<rect x="238.00" y="507.58" width="5.10" height="10.34" fill="#2d4b8f" />
<text x="0" y="0" font-size="8.2" text-anchor="start" fill="#222" transform="translate(245.80,515.88) scale(0.927,1)">CSF3R</text>
<text x="0" y="0" font-size="8.4" fill="#222" text-anchor="middle" textLength="87.5" lengthAdjust="spacingAndGlyphs" transform="translate(14.9,468.6) rotate(-90)">Variant allele frequency</text>
<text x="134.80" y="528.20" font-size="9.4" text-anchor="middle" font-weight="normal" font-style="normal" fill="#222" textLength="67.5" lengthAdjust="spacingAndGlyphs" >CBF AML samples</text>
<text x="292.10" y="409.80" font-size="10.5" text-anchor="start" font-weight="bold" font-style="normal" fill="#111" >C</text>
<line x1="310.70" y1="422.60" x2="310.70" y2="517.20" stroke="#222" stroke-width="1" />
<line x1="307.00" y1="516.50" x2="310.70" y2="516.50" stroke="#222" stroke-width="0.8" />
<text x="304.80" y="519.40" font-size="8.2" text-anchor="end" font-weight="normal" font-style="normal" fill="#222" >0.0</text>
<line x1="307.00" y1="506.95" x2="310.70" y2="506.95" stroke="#222" stroke-width="0.8" />
<text x="304.80" y="509.85" font-size="8.2" text-anchor="end" font-weight="normal" font-style="normal" fill="#222" >0.1</text>
<line x1="307.00" y1="497.40" x2="310.70" y2="497.40" stroke="#222" stroke-width="0.8" />
<text x="304.80" y="500.30" font-size="8.2" text-anchor="end" font-weight="normal" font-style="normal" fill="#222" >0.2</text>
<line x1="307.00" y1="487.85" x2="310.70" y2="487.85" stroke="#222" stroke-width="0.8" />
<text x="304.80" y="490.75" font-size="8.2" text-anchor="end" font-weight="normal" font-style="normal" fill="#222" >0.3</text>
<line x1="307.00" y1="478.30" x2="310.70" y2="478.30" stroke="#222" stroke-width="0.8" />
<text x="304.80" y="481.20" font-size="8.2" text-anchor="end" font-weight="normal" font-style="normal" fill="#222" >0.4</text>
<line x1="307.00" y1="468.75" x2="310.70" y2="468.75" stroke="#222" stroke-width="0.8" />
<text x="304.80" y="471.65" font-size="8.2" text-anchor="end" font-weight="normal" font-style="normal" fill="#222" >0.5</text>
<line x1="307.00" y1="459.20" x2="310.70" y2="459.20" stroke="#222" stroke-width="0.8" />
<text x="304.80" y="462.10" font-size="8.2" text-anchor="end" font-weight="normal" font-style="normal" fill="#222" >0.6</text>
<line x1="307.00" y1="449.65" x2="310.70" y2="449.65" stroke="#222" stroke-width="0.8" />
<text x="304.80" y="452.55" font-size="8.2" text-anchor="end" font-weight="normal" font-style="normal" fill="#222" >0.7</text>
<line x1="307.00" y1="440.10" x2="310.70" y2="440.10" stroke="#222" stroke-width="0.8" />
<text x="304.80" y="443.00" font-size="8.2" text-anchor="end" font-weight="normal" font-style="normal" fill="#222" >0.8</text>
<line x1="307.00" y1="430.55" x2="310.70" y2="430.55" stroke="#222" stroke-width="0.8" />
<text x="304.80" y="433.45" font-size="8.2" text-anchor="end" font-weight="normal" font-style="normal" fill="#222" >0.9</text>
<line x1="307.00" y1="517.10" x2="340.00" y2="517.10" stroke="#333" stroke-width="1.2" />
<line x1="311.20" y1="468.75" x2="340.60" y2="468.75" stroke="#1a1a1a" stroke-width="1.1" stroke-dasharray="1.5,1.5"/>
<defs><linearGradient id="dxg" x1="0" y1="0" x2="0" y2="1"><stop offset="0" stop-color="#a8102e"/><stop offset="0.3" stop-color="#a8102e"/><stop offset="0.55" stop-color="#4a2060"/><stop offset="1" stop-color="#4a2060"/></linearGradient></defs>
<rect x="312.30" y="471.14" width="5.40" height="45.36" fill="url(#dxg)" />
<rect x="312.30" y="498.91" width="5.40" height="0.80" fill="#e8d0e8" />
<rect x="320.10" y="475.44" width="5.70" height="41.06" fill="#a8102e" />
<text x="0" y="0" font-size="8.6" fill="#222" text-anchor="end" transform="translate(318.0,520.3) rotate(-90)">Dx</text>
<text x="0" y="0" font-size="8.6" fill="#222" text-anchor="end" transform="translate(325.6,520.3) rotate(-90)">Rel</text>
<defs>
<linearGradient id="prot" x1="0" y1="0" x2="0" y2="1">
<stop offset="0" stop-color="#bdbdbd"/><stop offset="0.15" stop-color="#f6f6f6"/><stop offset="0.45" stop-color="#eeeeee"/><stop offset="0.8" stop-color="#d6d6d6"/><stop offset="1" stop-color="#a9a9a9"/>
</linearGradient>
<linearGradient id="protc" x1="0" y1="0" x2="0" y2="1">
<stop offset="0" stop-color="#8a0a22"/><stop offset="0.25" stop-color="#b01232"/><stop offset="0.75" stop-color="#a8102e"/><stop offset="1" stop-color="#7a0a20"/>
</linearGradient>
</defs>
<text x="357.80" y="18.70" font-size="10.5" text-anchor="start" font-weight="bold" font-style="normal" fill="#111" >D</text>
<rect x="357.50" y="24.30" width="155.80" height="15.80" fill="#ffffff" />
<rect x="357.50" y="40.10" width="155.80" height="40.90" fill="#efeff0" />
<rect x="357.50" y="81.00" width="155.80" height="56.20" fill="#c9c9ca" />
<line x1="357.50" y1="40.10" x2="513.30" y2="40.10" stroke="#222" stroke-width="1.25" />
<rect x="357.50" y="24.30" width="155.80" height="112.90" fill="none" stroke="#262626" stroke-width="1.15" />
<line x1="358.00" y1="81.00" x2="512.80" y2="81.00" stroke="#333" stroke-width="0.9" />
<text x="434.7" y="36.7" font-size="9.4" text-anchor="middle" fill="#222">5/20 vs 3/395, <tspan font-style="italic">P</tspan> &lt; .0001</text>
<text x="359.90" y="54.60" font-size="7.4" text-anchor="start" font-weight="normal" font-style="normal" fill="#222" >t(8;21)</text>
<text x="358.70" y="113.80" font-size="7.4" text-anchor="start" font-weight="normal" font-style="normal" fill="#222" >non t(8;21)</text>
<rect x="390.5" y="73.0" width="118.19999999999999" height="15.799999999999997" rx="2.2" ry="2.2" fill="url(#prot)" stroke="#444" stroke-width="0.9"/>
<rect x="391.10" y="73.40" width="7.00" height="15.00" fill="url(#protc)" />
<rect x="412.80" y="73.40" width="10.00" height="15.00" fill="#6f7f9e" />
<rect x="504.30" y="73.60" width="3.80" height="14.60" fill="#eab07a" stroke="#9a6a3a" stroke-width="0.6" />
<text x="484.80" y="85.00" font-size="9.6" text-anchor="middle" font-weight="normal" font-style="normal" fill="#222" >ASXL2</text>
<line x1="433.70" y1="65.30" x2="433.70" y2="73.20" stroke="#333" stroke-width="0.8" />
<ellipse cx="433.7" cy="65.3" rx="1.2" ry="1.68" fill="#3a3a3a"/>
<line x1="439.40" y1="63.70" x2="439.40" y2="73.20" stroke="#333" stroke-width="0.8" />
<ellipse cx="439.4" cy="63.7" rx="1.4" ry="1.9599999999999997" fill="#3a3a3a"/>
<line x1="441.60" y1="65.10" x2="441.60" y2="73.20" stroke="#333" stroke-width="0.8" />
<ellipse cx="441.6" cy="65.1" rx="1.2" ry="1.68" fill="#3a3a3a"/>
<line x1="438.20" y1="64.60" x2="438.20" y2="73.20" stroke="#333" stroke-width="0.8" />
<ellipse cx="438.2" cy="64.6" rx="1.1" ry="1.54" fill="#3a3a3a"/>
<line x1="440.00" y1="88.80" x2="440.00" y2="96.30" stroke="#444" stroke-width="0.8" />
<ellipse cx="440.0" cy="96.3" rx="1.1" ry="1.5" fill="#444"/>
<line x1="442.00" y1="88.80" x2="442.00" y2="96.60" stroke="#444" stroke-width="0.8" />
<ellipse cx="442.0" cy="96.6" rx="1.1" ry="1.5" fill="#444"/>
<line x1="444.80" y1="88.80" x2="444.80" y2="96.30" stroke="#444" stroke-width="0.8" />
<ellipse cx="444.8" cy="96.3" rx="1.1" ry="1.5" fill="#444"/>
<rect x="420.60" y="128.30" width="3.60" height="5.20" fill="#ad0a2e" />
<text x="427.30" y="133.10" font-size="7.4" text-anchor="start" font-weight="normal" font-style="normal" fill="#222" >ASXN</text>
<rect x="452.80" y="128.30" width="3.60" height="5.20" fill="#6f7f9e" />
<text x="458.70" y="133.10" font-size="7.4" text-anchor="start" font-weight="normal" font-style="normal" fill="#222" >ASHX</text>
<rect x="484.30" y="128.30" width="3.60" height="5.20" fill="#eab07a" stroke="#9a6a3a" stroke-width="0.5" />
<text x="490.40" y="133.10" font-size="7.4" text-anchor="start" font-weight="normal" font-style="normal" fill="#222" >PHD</text>
<text x="358.50" y="151.80" font-size="10.5" text-anchor="start" font-weight="bold" font-style="normal" fill="#111" >E</text>
<rect x="357.50" y="157.30" width="155.80" height="15.70" fill="#ffffff" />
<rect x="357.50" y="173.00" width="155.80" height="42.40" fill="#efeff0" />
<rect x="357.50" y="215.40" width="155.80" height="55.80" fill="#c9c9ca" />
<line x1="357.50" y1="173.00" x2="513.30" y2="173.00" stroke="#222" stroke-width="1.25" />
<rect x="357.50" y="157.30" width="155.80" height="113.90" fill="none" stroke="#262626" stroke-width="1.15" />
<line x1="358.00" y1="215.40" x2="512.80" y2="215.40" stroke="#333" stroke-width="0.9" />
<text x="434.8" y="168.2" font-size="9.4" text-anchor="middle" fill="#222">3/15 vs 8/395, <tspan font-style="italic">P</tspan> = .01</text>
<text x="358.80" y="199.00" font-size="7.4" text-anchor="start" font-weight="normal" font-style="normal" fill="#222" >t(8;21)</text>
<text x="360.50" y="241.40" font-size="7.4" text-anchor="start" font-weight="normal" font-style="normal" fill="#222" >non t(8;21)</text>
<rect x="390.5" y="207.1" width="118.19999999999999" height="15.599999999999994" rx="2.2" ry="2.2" fill="url(#prot)" stroke="#444" stroke-width="0.9"/>
<rect x="392.90" y="207.50" width="2.00" height="14.80" fill="#333" />
<rect x="439.00" y="207.50" width="14.70" height="14.80" fill="url(#protc)" />
<text x="484.70" y="218.90" font-size="9.6" text-anchor="middle" font-weight="normal" font-style="normal" fill="#222" >SMC1A</text>
<line x1="399.60" y1="202.00" x2="399.60" y2="207.10" stroke="#555" stroke-width="0.6" />
<circle cx="396.2" cy="198.4" r="1.35" fill="none" stroke="#c89048" stroke-width="0.7"/>
<circle cx="397.4" cy="200.0" r="1.35" fill="none" stroke="#c89048" stroke-width="0.7"/>
<circle cx="398.4" cy="201.4" r="1.35" fill="none" stroke="#c89048" stroke-width="0.7"/>
<text x="0" y="0" font-size="7.5" fill="#222" transform="translate(393.0,196.4) rotate(-45)">R96H</text>
<text x="0" y="0" font-size="7.5" fill="#222" transform="translate(399.4,199.8) rotate(-45)">R96H</text>
<text x="0" y="0" font-size="7.5" fill="#222" transform="translate(405.8,203.2) rotate(-45)">R96H</text>
<line x1="457.70" y1="202.50" x2="457.70" y2="207.10" stroke="#555" stroke-width="0.6" />
<circle cx="457.7" cy="201.2" r="1.1" fill="none" stroke="#555" stroke-width="0.6"/>
<text x="0" y="0" font-size="7.6" fill="#222" transform="translate(460.9,201.0) rotate(-45)">R711Q</text>
<line x1="444.70" y1="222.70" x2="444.70" y2="228.60" stroke="#555" stroke-width="0.6" />
<line x1="446.40" y1="222.70" x2="446.40" y2="228.60" stroke="#555" stroke-width="0.6" />
<circle cx="443.7" cy="229.9" r="1.45" fill="none" stroke="#c89048" stroke-width="0.75"/>
<circle cx="447.2" cy="230.4" r="1.45" fill="none" stroke="#c89048" stroke-width="0.75"/>
<circle cx="448.9" cy="232.3" r="1.45" fill="none" stroke="#c89048" stroke-width="0.75"/>
<line x1="457.70" y1="222.70" x2="457.70" y2="228.00" stroke="#555" stroke-width="0.6" />
<circle cx="457.7" cy="229.4" r="1.3" fill="none" stroke="#555" stroke-width="0.7"/>
<line x1="467.70" y1="222.70" x2="467.70" y2="227.50" stroke="#555" stroke-width="0.6" />
<rect x="466.9" y="227.0" width="3.4" height="5.6" rx="1.1" fill="#a8102e" stroke="#6a0a1c" stroke-width="0.4" transform="rotate(-40 468.6 229.8)"/>
<rect x="387.30" y="250.40" width="2.40" height="5.20" fill="#7a1232" />
<text x="392.30" y="255.10" font-size="7.5" text-anchor="start" font-weight="normal" font-style="normal" fill="#222" >Flexible hinge</text>
<rect x="442.00" y="250.40" width="2.40" height="5.20" fill="#555" />
<line x1="442.00" y1="252.00" x2="444.40" y2="252.00" stroke="#999" stroke-width="0.4" />
<line x1="442.00" y1="253.90" x2="444.40" y2="253.90" stroke="#999" stroke-width="0.4" />
<text x="447.40" y="255.10" font-size="7.5" text-anchor="start" font-weight="normal" font-style="normal" fill="#222" >Nucleotide binding</text>
<circle cx="388.4" cy="264.3" r="1.25" fill="#f4f0e8" stroke="#a88850" stroke-width="0.7"/>
<text x="392.60" y="266.50" font-size="7.5" text-anchor="start" font-weight="normal" font-style="normal" fill="#222" >Missense</text>
<circle cx="429.2" cy="264.3" r="1.55" fill="#7a0a28"/>
<text x="433.60" y="266.50" font-size="7.5" text-anchor="start" font-weight="normal" font-style="normal" fill="#222" >Splice site</text>
<circle cx="472.6" cy="264.3" r="1.25" fill="#f0f0f0" stroke="#555" stroke-width="0.7"/>
<text x="476.30" y="266.50" font-size="7.5" text-anchor="start" font-weight="normal" font-style="normal" fill="#222" >Germline</text>
<text x="358.50" y="289.50" font-size="10.5" text-anchor="start" font-weight="bold" font-style="normal" fill="#111" >F</text>
<rect x="357.50" y="295.20" width="155.80" height="15.90" fill="#ffffff" />
<rect x="357.50" y="311.10" width="155.80" height="48.90" fill="#efeff0" />
<rect x="357.50" y="360.00" width="155.80" height="48.60" fill="#c9c9ca" />
<line x1="357.50" y1="311.10" x2="513.30" y2="311.10" stroke="#222" stroke-width="1.25" />
<rect x="357.50" y="295.20" width="155.80" height="113.40" fill="none" stroke="#262626" stroke-width="1.15" />
<line x1="358.00" y1="360.00" x2="512.80" y2="360.00" stroke="#333" stroke-width="0.9" />
<text x="435.1" y="307.0" font-size="9.4" text-anchor="middle" fill="#222">3/20 vs 1/395, <tspan font-style="italic">P</tspan> = .0004</text>
<text x="360.20" y="325.00" font-size="7.4" text-anchor="start" font-weight="normal" font-style="normal" fill="#222" >t(8;21)</text>
<text x="359.60" y="389.60" font-size="7.4" text-anchor="start" font-weight="normal" font-style="normal" fill="#222" >non t(8;21)</text>
<rect x="389.6" y="353.1" width="117.39999999999998" height="13.899999999999977" rx="2.2" ry="2.2" fill="url(#prot)" stroke="#444" stroke-width="0.9"/>
<rect x="396.20" y="353.50" width="13.80" height="13.10" fill="url(#protc)" />
<text x="403.1" y="362.8" font-size="6.6" text-anchor="middle" fill="#6a0018" style="stroke:none">BTB</text>
<text x="438.60" y="363.60" font-size="9.6" text-anchor="middle" font-weight="normal" font-style="normal" fill="#222" >ZBTB7A</text>
<rect x="466.20" y="353.60" width="5.20" height="12.90" fill="#f1bf82" stroke="#7c5628" stroke-width="0.8" />
<rect x="471.80" y="353.60" width="5.20" height="12.90" fill="#f1bf82" stroke="#7c5628" stroke-width="0.8" />
<rect x="477.40" y="353.60" width="5.20" height="12.90" fill="#f1bf82" stroke="#7c5628" stroke-width="0.8" />
<rect x="483.00" y="353.60" width="5.20" height="12.90" fill="#f1bf82" stroke="#7c5628" stroke-width="0.8" />
<text x="476.70" y="346.70" font-size="7.6" text-anchor="middle" font-weight="normal" font-style="normal" fill="#222" >Zinc fingers</text>
<line x1="461.10" y1="349.70" x2="491.40" y2="349.70" stroke="#333" stroke-width="0.8" />
<line x1="413.50" y1="344.70" x2="413.50" y2="353.10" stroke="#333" stroke-width="0.75" />
<circle cx="413.5" cy="343.5" r="1.25" fill="#eee" stroke="#333" stroke-width="0.7"/>
<text x="0" y="0" font-size="7.3" fill="#222" transform="translate(417.3,340.6) rotate(-90)">V122G</text>
<line x1="423.90" y1="346.00" x2="423.90" y2="353.10" stroke="#333" stroke-width="0.75" />
<ellipse cx="422.8" cy="344.0" rx="1.25" ry="2.2" fill="#7e0c2c" transform="rotate(-20 422.8 344)"/>
<ellipse cx="425.2" cy="344.0" rx="1.25" ry="2.2" fill="#7e0c2c" transform="rotate(20 425.2 344)"/>
<text x="0" y="0" font-size="6.9" fill="#222" transform="translate(424.4,339.6) rotate(-50)">p.A174Fs</text>
<text x="0" y="0" font-size="6.9" fill="#222" transform="translate(430.8,340.8) rotate(-50)">p.A174Fs</text>
<line x1="394.90" y1="367.00" x2="394.90" y2="376.20" stroke="#333" stroke-width="0.75" />
<circle cx="394.9" cy="377.4" r="1.25" fill="#aaa" stroke="#333" stroke-width="0.7"/>
<ellipse cx="433.1" cy="391.9" rx="1.4" ry="2.5" fill="#7e0c2c"/>
<text x="436.50" y="394.00" font-size="7.4" text-anchor="start" font-weight="normal" font-style="normal" fill="#222" >Nonsense/frameshift</text>
<circle cx="432.9" cy="400.8" r="1.6" fill="#555"/>
<text x="436.50" y="402.60" font-size="7.4" text-anchor="start" font-weight="normal" font-style="normal" fill="#222" >Missense</text>
<text x="358.30" y="432.00" font-size="10.5" text-anchor="start" font-weight="bold" font-style="normal" fill="#111" >G</text>
<line x1="386.30" y1="438.40" x2="386.30" y2="517.30" stroke="#222" stroke-width="1" />
<line x1="384.20" y1="516.70" x2="386.30" y2="516.70" stroke="#222" stroke-width="0.8" />
<text x="381.80" y="519.40" font-size="7.8" text-anchor="end" font-weight="normal" font-style="normal" fill="#222" >0</text>
<line x1="384.20" y1="501.59" x2="386.30" y2="501.59" stroke="#222" stroke-width="0.8" />
<text x="381.80" y="504.29" font-size="7.8" text-anchor="end" font-weight="normal" font-style="normal" fill="#222" >20</text>
<line x1="384.20" y1="486.48" x2="386.30" y2="486.48" stroke="#222" stroke-width="0.8" />
<text x="381.80" y="489.18" font-size="7.8" text-anchor="end" font-weight="normal" font-style="normal" fill="#222" >40</text>
<line x1="384.20" y1="471.37" x2="386.30" y2="471.37" stroke="#222" stroke-width="0.8" />
<text x="381.80" y="474.07" font-size="7.8" text-anchor="end" font-weight="normal" font-style="normal" fill="#222" >60</text>
<line x1="384.20" y1="456.26" x2="386.30" y2="456.26" stroke="#222" stroke-width="0.8" />
<text x="381.80" y="458.96" font-size="7.8" text-anchor="end" font-weight="normal" font-style="normal" fill="#222" >80</text>
<line x1="384.20" y1="441.15" x2="386.30" y2="441.15" stroke="#222" stroke-width="0.8" />
<text x="381.80" y="443.85" font-size="7.8" text-anchor="end" font-weight="normal" font-style="normal" fill="#222" >100</text>
<line x1="386.00" y1="517.00" x2="503.30" y2="517.00" stroke="#222" stroke-width="1.1" />
<rect x="388.60" y="506.12" width="10.70" height="10.58" fill="#ad0a2e" />
<rect x="399.60" y="442.96" width="10.90" height="73.74" fill="#6e7f9f" />
<rect x="419.50" y="478.93" width="10.40" height="37.77" fill="#ad0a2e" />
<rect x="429.90" y="514.06" width="10.80" height="2.64" fill="#6e7f9f" />
<rect x="448.70" y="497.81" width="11.00" height="18.89" fill="#ad0a2e" />
<rect x="479.00" y="509.15" width="11.00" height="7.56" fill="#ad0a2e" />
<text x="400.20" y="526.40" font-size="7.8" text-anchor="middle" font-weight="normal" font-style="normal" fill="#222" >0</text>
<text x="429.60" y="526.40" font-size="7.8" text-anchor="middle" font-weight="normal" font-style="normal" fill="#222" >1</text>
<text x="461.30" y="526.40" font-size="7.8" text-anchor="middle" font-weight="normal" font-style="normal" fill="#222" >2</text>
<text x="492.80" y="526.40" font-size="7.8" text-anchor="middle" font-weight="normal" font-style="normal" fill="#222" >3</text>
<text x="0" y="0" font-size="9.2" fill="#222" text-anchor="middle" textLength="38.5" lengthAdjust="spacingAndGlyphs" transform="translate(366.8,478.0) rotate(-90)">% samples</text>
<text x="438.00" y="536.40" font-size="9.6" text-anchor="middle" font-weight="normal" font-style="normal" fill="#222" textLength="92" lengthAdjust="spacingAndGlyphs" ># non activated signaling</text>
<text x="439.40" y="547.60" font-size="9.6" text-anchor="middle" font-weight="normal" font-style="normal" fill="#222" textLength="63" lengthAdjust="spacingAndGlyphs" >mutation/sample</text>
<rect x="453.50" y="434.60" width="5.80" height="5.90" fill="#ad0a2e" />
<text x="462.30" y="440.30" font-size="7.6" text-anchor="start" font-weight="normal" font-style="normal" fill="#222" >t(8;21)</text>
<rect x="453.50" y="446.90" width="5.80" height="5.80" fill="#6e7f9f" />
<text x="462.30" y="452.60" font-size="7.6" text-anchor="start" font-weight="normal" font-style="normal" fill="#222" >inv(16)</text>
<text x="454.6" y="465.1" font-size="7.4" fill="#222" textLength="30" lengthAdjust="spacingAndGlyphs"><tspan font-style="italic">P</tspan> &lt; .0001</text>
<rect x="0.5" y="0.5" width="519" height="556" fill="none" stroke="#111" stroke-width="1"/>
</svg>
</body></html>
